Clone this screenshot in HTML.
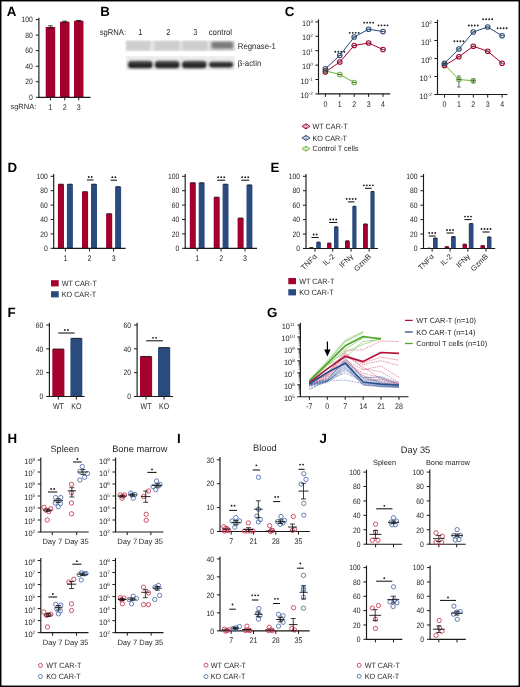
<!DOCTYPE html>
<html><head><meta charset="utf-8"><style>
html,body{margin:0;padding:0;background:#fff;}
svg{display:block;font-family:"Liberation Sans",sans-serif;text-rendering:geometricPrecision;filter:blur(0.35px);}
</style></head><body>
<svg width="520" height="687" viewBox="0 0 520 687">
<rect width="520" height="687" fill="#fff"/>
<rect x="0.7" y="0.7" width="518.6" height="685.6" fill="none" stroke="#000" stroke-width="1.5"/>
<text x="6.8" y="16.3" font-size="13.3" font-weight="bold" fill="#000">A</text>
<line x1="38.9" y1="97.3" x2="38.9" y2="17.7" stroke="#1a1a1a" stroke-width="1.15"/>
<line x1="35.8" y1="97.3" x2="38.9" y2="97.3" stroke="#1a1a1a" stroke-width="1"/>
<text transform="translate(32.9 100.03) scale(0.87 1)" font-size="7.8" text-anchor="end" fill="#231f20">0</text>
<line x1="35.8" y1="81.76" x2="38.9" y2="81.76" stroke="#1a1a1a" stroke-width="1"/>
<text transform="translate(32.9 84.49) scale(0.87 1)" font-size="7.8" text-anchor="end" fill="#231f20">20</text>
<line x1="35.8" y1="66.22" x2="38.9" y2="66.22" stroke="#1a1a1a" stroke-width="1"/>
<text transform="translate(32.9 68.95) scale(0.87 1)" font-size="7.8" text-anchor="end" fill="#231f20">40</text>
<line x1="35.8" y1="50.68" x2="38.9" y2="50.68" stroke="#1a1a1a" stroke-width="1"/>
<text transform="translate(32.9 53.41) scale(0.87 1)" font-size="7.8" text-anchor="end" fill="#231f20">60</text>
<line x1="35.8" y1="35.14" x2="38.9" y2="35.14" stroke="#1a1a1a" stroke-width="1"/>
<text transform="translate(32.9 37.87) scale(0.87 1)" font-size="7.8" text-anchor="end" fill="#231f20">80</text>
<line x1="35.8" y1="19.6" x2="38.9" y2="19.6" stroke="#1a1a1a" stroke-width="1"/>
<text transform="translate(32.9 22.33) scale(0.87 1)" font-size="7.8" text-anchor="end" fill="#231f20">100</text>
<rect x="45.7" y="26.98" width="9.5" height="70.32" fill="#a3002d"/>
<line x1="50.45" y1="25.82" x2="50.45" y2="28.15" stroke="#111" stroke-width="0.8"/>
<line x1="47.95" y1="25.82" x2="52.95" y2="25.82" stroke="#111" stroke-width="0.8"/>
<line x1="47.95" y1="28.15" x2="52.95" y2="28.15" stroke="#111" stroke-width="0.8"/>
<rect x="60" y="21.7" width="9.5" height="75.6" fill="#a3002d"/>
<line x1="64.75" y1="21.15" x2="64.75" y2="22.24" stroke="#111" stroke-width="0.8"/>
<line x1="62.25" y1="21.15" x2="67.25" y2="21.15" stroke="#111" stroke-width="0.8"/>
<line x1="62.25" y1="22.24" x2="67.25" y2="22.24" stroke="#111" stroke-width="0.8"/>
<rect x="74" y="20.77" width="9.5" height="76.53" fill="#a3002d"/>
<line x1="78.75" y1="20.45" x2="78.75" y2="21.08" stroke="#111" stroke-width="0.8"/>
<line x1="76.25" y1="20.45" x2="81.25" y2="20.45" stroke="#111" stroke-width="0.8"/>
<line x1="76.25" y1="21.08" x2="81.25" y2="21.08" stroke="#111" stroke-width="0.8"/>
<line x1="38.32" y1="97.3" x2="90.5" y2="97.3" stroke="#1a1a1a" stroke-width="1.15"/>
<line x1="50.45" y1="97.3" x2="50.45" y2="100.4" stroke="#1a1a1a" stroke-width="1"/>
<text transform="translate(50.45 109.8) scale(0.86 1)" font-size="8.2" text-anchor="middle" fill="#231f20">1</text>
<line x1="64.75" y1="97.3" x2="64.75" y2="100.4" stroke="#1a1a1a" stroke-width="1"/>
<text transform="translate(64.75 109.8) scale(0.86 1)" font-size="8.2" text-anchor="middle" fill="#231f20">2</text>
<line x1="78.75" y1="97.3" x2="78.75" y2="100.4" stroke="#1a1a1a" stroke-width="1"/>
<text transform="translate(78.75 109.8) scale(0.86 1)" font-size="8.2" text-anchor="middle" fill="#231f20">3</text>
<text x="10.4" y="108.8" font-size="7.5" fill="#231f20">sgRNA:</text>
<text x="100.2" y="16.3" font-size="13.3" font-weight="bold" fill="#000">B</text>
<text transform="translate(99.8 34.6) scale(0.93 1)" font-size="8.2" fill="#231f20">sgRNA:</text>
<text transform="translate(140.2 34.6) scale(0.86 1)" font-size="8.6" text-anchor="middle" fill="#231f20">1</text>
<text transform="translate(168.2 34.6) scale(0.86 1)" font-size="8.6" text-anchor="middle" fill="#231f20">2</text>
<text transform="translate(195.4 34.6) scale(0.86 1)" font-size="8.6" text-anchor="middle" fill="#231f20">3</text>
<text transform="translate(220.4 34.6) scale(0.93 1)" font-size="8.4" text-anchor="middle" fill="#231f20">control</text>
<defs><filter id="bl" x="-20%" y="-60%" width="140%" height="220%"><feGaussianBlur stdDeviation="0.9"/></filter><filter id="bl2" x="-20%" y="-60%" width="140%" height="220%"><feGaussianBlur stdDeviation="1.2"/></filter><filter id="bl3" x="-20%" y="-60%" width="140%" height="220%"><feGaussianBlur stdDeviation="0.5"/></filter><linearGradient id="bg" x1="0" y1="0" x2="0" y2="1"><stop offset="0" stop-color="#606060"/><stop offset="0.45" stop-color="#2c2c2c"/><stop offset="1" stop-color="#1e1e1e"/></linearGradient></defs>
<rect x="125.8" y="40.6" width="109" height="10.4" fill="#e6e6e6" filter="url(#bl3)"/>
<rect x="126.5" y="41.3" width="23.7" height="9" fill="#cecece" filter="url(#bl)"/>
<rect x="154.5" y="41.3" width="25" height="9" fill="#cecece" filter="url(#bl)"/>
<rect x="182.5" y="41.3" width="25" height="9" fill="#cecece" filter="url(#bl)"/>
<rect x="210" y="41.3" width="24.3" height="9" fill="#cecece" filter="url(#bl)"/>
<rect x="211.5" y="42.0" width="21.5" height="6.6" rx="2.5" fill="#7c7c7c" filter="url(#bl2)"/>
<rect x="125.8" y="56.3" width="109" height="14" fill="#ececec" filter="url(#bl3)"/>
<rect x="128" y="60.7" width="24.7" height="7.6" rx="3.6" fill="url(#bg)" filter="url(#bl)"/>
<rect x="154.8" y="60.7" width="24.8" height="7.6" rx="3.6" fill="url(#bg)" filter="url(#bl)"/>
<rect x="182" y="60.7" width="24.6" height="7.6" rx="3.6" fill="url(#bg)" filter="url(#bl)"/>
<rect x="209" y="61.6" width="24.2" height="5.8" rx="3.6" fill="url(#bg)" filter="url(#bl)"/>
<text transform="translate(237.8 48.8) scale(0.93 1)" font-size="8.4" fill="#231f20">Regnase-1</text>
<text transform="translate(237.8 66.1) scale(0.93 1)" font-size="8.4" fill="#231f20">&#946;-actin</text>
<text x="284.8" y="16.3" font-size="13.3" font-weight="bold" fill="#000">C</text>
<line x1="318.5" y1="93.8" x2="318.5" y2="19.4" stroke="#1a1a1a" stroke-width="1.15"/>
<line x1="315.4" y1="21.9" x2="318.5" y2="21.9" stroke="#1a1a1a" stroke-width="1"/>
<text transform="translate(312.8 25.9) scale(0.95 1)" font-size="7.8" text-anchor="end" fill="#231f20">10<tspan font-size="4.8" dy="-3">3</tspan></text>
<line x1="315.4" y1="36.3" x2="318.5" y2="36.3" stroke="#1a1a1a" stroke-width="1"/>
<text transform="translate(312.8 40.3) scale(0.95 1)" font-size="7.8" text-anchor="end" fill="#231f20">10<tspan font-size="4.8" dy="-3">2</tspan></text>
<line x1="315.4" y1="50.7" x2="318.5" y2="50.7" stroke="#1a1a1a" stroke-width="1"/>
<text transform="translate(312.8 54.7) scale(0.95 1)" font-size="7.8" text-anchor="end" fill="#231f20">10<tspan font-size="4.8" dy="-3">1</tspan></text>
<line x1="315.4" y1="65.1" x2="318.5" y2="65.1" stroke="#1a1a1a" stroke-width="1"/>
<text transform="translate(312.8 69.1) scale(0.95 1)" font-size="7.8" text-anchor="end" fill="#231f20">10<tspan font-size="4.8" dy="-3">0</tspan></text>
<line x1="315.4" y1="79.5" x2="318.5" y2="79.5" stroke="#1a1a1a" stroke-width="1"/>
<text transform="translate(312.8 83.5) scale(0.95 1)" font-size="7.8" text-anchor="end" fill="#231f20">10<tspan font-size="4.8" dy="-3">-1</tspan></text>
<line x1="315.4" y1="93.9" x2="318.5" y2="93.9" stroke="#1a1a1a" stroke-width="1"/>
<text transform="translate(312.8 97.9) scale(0.95 1)" font-size="7.8" text-anchor="end" fill="#231f20">10<tspan font-size="4.8" dy="-3">-2</tspan></text>
<line x1="317.93" y1="93.8" x2="390.2" y2="93.8" stroke="#1a1a1a" stroke-width="1.15"/>
<line x1="325.4" y1="93.8" x2="325.4" y2="96.9" stroke="#1a1a1a" stroke-width="1"/>
<text transform="translate(325.4 106.8) scale(0.86 1)" font-size="8.2" text-anchor="middle" fill="#231f20">0</text>
<line x1="339.8" y1="93.8" x2="339.8" y2="96.9" stroke="#1a1a1a" stroke-width="1"/>
<text transform="translate(339.8 106.8) scale(0.86 1)" font-size="8.2" text-anchor="middle" fill="#231f20">1</text>
<line x1="354.2" y1="93.8" x2="354.2" y2="96.9" stroke="#1a1a1a" stroke-width="1"/>
<text transform="translate(354.2 106.8) scale(0.86 1)" font-size="8.2" text-anchor="middle" fill="#231f20">2</text>
<line x1="368.6" y1="93.8" x2="368.6" y2="96.9" stroke="#1a1a1a" stroke-width="1"/>
<text transform="translate(368.6 106.8) scale(0.86 1)" font-size="8.2" text-anchor="middle" fill="#231f20">3</text>
<line x1="383" y1="93.8" x2="383" y2="96.9" stroke="#1a1a1a" stroke-width="1"/>
<text transform="translate(383 106.8) scale(0.86 1)" font-size="8.2" text-anchor="middle" fill="#231f20">4</text>
<polyline points="325.4,70.75 339.8,74.5 354.2,82.5" fill="none" stroke="#6db33f" stroke-width="1" stroke-linejoin="round"/>
<circle cx="325.4" cy="70.75" r="2.3" fill="none" stroke="#6db33f" stroke-width="1.05"/>
<line x1="323.5" y1="70.75" x2="327.3" y2="70.75" stroke="#3a3a3a" stroke-width="0.75"/>
<circle cx="339.8" cy="74.5" r="2.3" fill="none" stroke="#6db33f" stroke-width="1.05"/>
<line x1="337.9" y1="74.5" x2="341.7" y2="74.5" stroke="#3a3a3a" stroke-width="0.75"/>
<circle cx="354.2" cy="82.5" r="2.3" fill="none" stroke="#6db33f" stroke-width="1.05"/>
<line x1="352.3" y1="82.5" x2="356.1" y2="82.5" stroke="#3a3a3a" stroke-width="0.75"/>
<polyline points="325.4,72 339.8,62 354.2,45.5 368.6,43 383,49.5" fill="none" stroke="#a3002d" stroke-width="1" stroke-linejoin="round"/>
<circle cx="325.4" cy="72" r="2.3" fill="none" stroke="#a3002d" stroke-width="1.05"/>
<line x1="323.5" y1="72" x2="327.3" y2="72" stroke="#3a3a3a" stroke-width="0.75"/>
<circle cx="339.8" cy="62" r="2.3" fill="none" stroke="#a3002d" stroke-width="1.05"/>
<line x1="337.9" y1="62" x2="341.7" y2="62" stroke="#3a3a3a" stroke-width="0.75"/>
<circle cx="354.2" cy="45.5" r="2.3" fill="none" stroke="#a3002d" stroke-width="1.05"/>
<line x1="352.3" y1="45.5" x2="356.1" y2="45.5" stroke="#3a3a3a" stroke-width="0.75"/>
<circle cx="368.6" cy="43" r="2.3" fill="none" stroke="#a3002d" stroke-width="1.05"/>
<line x1="366.7" y1="43" x2="370.5" y2="43" stroke="#3a3a3a" stroke-width="0.75"/>
<circle cx="383" cy="49.5" r="2.3" fill="none" stroke="#a3002d" stroke-width="1.05"/>
<line x1="381.1" y1="49.5" x2="384.9" y2="49.5" stroke="#3a3a3a" stroke-width="0.75"/>
<polyline points="325.4,68.75 339.8,55.5 354.2,37 368.6,29.25 383,31.5" fill="none" stroke="#2b4a7e" stroke-width="1" stroke-linejoin="round"/>
<circle cx="325.4" cy="68.75" r="2.3" fill="none" stroke="#2b4a7e" stroke-width="1.05"/>
<line x1="323.5" y1="68.75" x2="327.3" y2="68.75" stroke="#3a3a3a" stroke-width="0.75"/>
<circle cx="339.8" cy="55.5" r="2.3" fill="none" stroke="#2b4a7e" stroke-width="1.05"/>
<line x1="337.9" y1="55.5" x2="341.7" y2="55.5" stroke="#3a3a3a" stroke-width="0.75"/>
<circle cx="354.2" cy="37" r="2.3" fill="none" stroke="#2b4a7e" stroke-width="1.05"/>
<line x1="352.3" y1="37" x2="356.1" y2="37" stroke="#3a3a3a" stroke-width="0.75"/>
<circle cx="368.6" cy="29.25" r="2.3" fill="none" stroke="#2b4a7e" stroke-width="1.05"/>
<line x1="366.7" y1="29.25" x2="370.5" y2="29.25" stroke="#3a3a3a" stroke-width="0.75"/>
<circle cx="383" cy="31.5" r="2.3" fill="none" stroke="#2b4a7e" stroke-width="1.05"/>
<line x1="381.1" y1="31.5" x2="384.9" y2="31.5" stroke="#3a3a3a" stroke-width="0.75"/>
<circle cx="335.3" cy="51.75" r="0.92" fill="#1a1a1a"/>
<circle cx="338.3" cy="51.75" r="0.92" fill="#1a1a1a"/>
<circle cx="341.3" cy="51.75" r="0.92" fill="#1a1a1a"/>
<circle cx="344.3" cy="51.75" r="0.92" fill="#1a1a1a"/>
<circle cx="349.7" cy="32.8" r="0.92" fill="#1a1a1a"/>
<circle cx="352.7" cy="32.8" r="0.92" fill="#1a1a1a"/>
<circle cx="355.7" cy="32.8" r="0.92" fill="#1a1a1a"/>
<circle cx="358.7" cy="32.8" r="0.92" fill="#1a1a1a"/>
<circle cx="364.1" cy="22.7" r="0.92" fill="#1a1a1a"/>
<circle cx="367.1" cy="22.7" r="0.92" fill="#1a1a1a"/>
<circle cx="370.1" cy="22.7" r="0.92" fill="#1a1a1a"/>
<circle cx="373.1" cy="22.7" r="0.92" fill="#1a1a1a"/>
<circle cx="378.5" cy="25.3" r="0.92" fill="#1a1a1a"/>
<circle cx="381.5" cy="25.3" r="0.92" fill="#1a1a1a"/>
<circle cx="384.5" cy="25.3" r="0.92" fill="#1a1a1a"/>
<circle cx="387.5" cy="25.3" r="0.92" fill="#1a1a1a"/>
<line x1="437.5" y1="94.5" x2="437.5" y2="19.8" stroke="#1a1a1a" stroke-width="1.15"/>
<line x1="434.4" y1="22.5" x2="437.5" y2="22.5" stroke="#1a1a1a" stroke-width="1"/>
<text transform="translate(431.8 26.5) scale(0.95 1)" font-size="7.8" text-anchor="end" fill="#231f20">10<tspan font-size="4.8" dy="-3">2</tspan></text>
<line x1="434.4" y1="40.5" x2="437.5" y2="40.5" stroke="#1a1a1a" stroke-width="1"/>
<text transform="translate(431.8 44.5) scale(0.95 1)" font-size="7.8" text-anchor="end" fill="#231f20">10<tspan font-size="4.8" dy="-3">1</tspan></text>
<line x1="434.4" y1="58.5" x2="437.5" y2="58.5" stroke="#1a1a1a" stroke-width="1"/>
<text transform="translate(431.8 62.5) scale(0.95 1)" font-size="7.8" text-anchor="end" fill="#231f20">10<tspan font-size="4.8" dy="-3">0</tspan></text>
<line x1="434.4" y1="76.5" x2="437.5" y2="76.5" stroke="#1a1a1a" stroke-width="1"/>
<text transform="translate(431.8 80.5) scale(0.95 1)" font-size="7.8" text-anchor="end" fill="#231f20">10<tspan font-size="4.8" dy="-3">-1</tspan></text>
<line x1="434.4" y1="94.5" x2="437.5" y2="94.5" stroke="#1a1a1a" stroke-width="1"/>
<text transform="translate(431.8 98.5) scale(0.95 1)" font-size="7.8" text-anchor="end" fill="#231f20">10<tspan font-size="4.8" dy="-3">-2</tspan></text>
<line x1="436.93" y1="94.5" x2="507.5" y2="94.5" stroke="#1a1a1a" stroke-width="1.15"/>
<line x1="444.5" y1="94.5" x2="444.5" y2="97.6" stroke="#1a1a1a" stroke-width="1"/>
<text transform="translate(444.5 107) scale(0.86 1)" font-size="8.2" text-anchor="middle" fill="#231f20">0</text>
<line x1="458.9" y1="94.5" x2="458.9" y2="97.6" stroke="#1a1a1a" stroke-width="1"/>
<text transform="translate(458.9 107) scale(0.86 1)" font-size="8.2" text-anchor="middle" fill="#231f20">1</text>
<line x1="473.3" y1="94.5" x2="473.3" y2="97.6" stroke="#1a1a1a" stroke-width="1"/>
<text transform="translate(473.3 107) scale(0.86 1)" font-size="8.2" text-anchor="middle" fill="#231f20">2</text>
<line x1="487.7" y1="94.5" x2="487.7" y2="97.6" stroke="#1a1a1a" stroke-width="1"/>
<text transform="translate(487.7 107) scale(0.86 1)" font-size="8.2" text-anchor="middle" fill="#231f20">3</text>
<line x1="502.1" y1="94.5" x2="502.1" y2="97.6" stroke="#1a1a1a" stroke-width="1"/>
<text transform="translate(502.1 107) scale(0.86 1)" font-size="8.2" text-anchor="middle" fill="#231f20">4</text>
<line x1="458.9" y1="76" x2="458.9" y2="87" stroke="#555" stroke-width="0.9"/>
<line x1="457.1" y1="76" x2="460.7" y2="76" stroke="#555" stroke-width="0.9"/>
<line x1="457.1" y1="87" x2="460.7" y2="87" stroke="#555" stroke-width="0.9"/>
<line x1="473.3" y1="78.6" x2="473.3" y2="82.9" stroke="#333" stroke-width="0.9"/>
<line x1="471.8" y1="78.6" x2="474.8" y2="78.6" stroke="#333" stroke-width="0.8"/>
<line x1="471.8" y1="82.9" x2="474.8" y2="82.9" stroke="#333" stroke-width="0.8"/>
<polyline points="444.5,64.5 458.9,79.5 473.3,80.75" fill="none" stroke="#6db33f" stroke-width="1" stroke-linejoin="round"/>
<circle cx="444.5" cy="64.5" r="2.3" fill="none" stroke="#6db33f" stroke-width="1.05"/>
<line x1="442.6" y1="64.5" x2="446.4" y2="64.5" stroke="#3a3a3a" stroke-width="0.75"/>
<circle cx="458.9" cy="79.5" r="2.3" fill="none" stroke="#6db33f" stroke-width="1.05"/>
<line x1="457" y1="79.5" x2="460.8" y2="79.5" stroke="#3a3a3a" stroke-width="0.75"/>
<circle cx="473.3" cy="80.75" r="2.3" fill="none" stroke="#6db33f" stroke-width="1.05"/>
<line x1="471.4" y1="80.75" x2="475.2" y2="80.75" stroke="#3a3a3a" stroke-width="0.75"/>
<polyline points="444.5,65.5 458.9,56.75 473.3,46.25 487.7,51.25 502.1,63.25" fill="none" stroke="#a3002d" stroke-width="1" stroke-linejoin="round"/>
<circle cx="444.5" cy="65.5" r="2.3" fill="none" stroke="#a3002d" stroke-width="1.05"/>
<line x1="442.6" y1="65.5" x2="446.4" y2="65.5" stroke="#3a3a3a" stroke-width="0.75"/>
<circle cx="458.9" cy="56.75" r="2.3" fill="none" stroke="#a3002d" stroke-width="1.05"/>
<line x1="457" y1="56.75" x2="460.8" y2="56.75" stroke="#3a3a3a" stroke-width="0.75"/>
<circle cx="473.3" cy="46.25" r="2.3" fill="none" stroke="#a3002d" stroke-width="1.05"/>
<line x1="471.4" y1="46.25" x2="475.2" y2="46.25" stroke="#3a3a3a" stroke-width="0.75"/>
<circle cx="487.7" cy="51.25" r="2.3" fill="none" stroke="#a3002d" stroke-width="1.05"/>
<line x1="485.8" y1="51.25" x2="489.6" y2="51.25" stroke="#3a3a3a" stroke-width="0.75"/>
<circle cx="502.1" cy="63.25" r="2.3" fill="none" stroke="#a3002d" stroke-width="1.05"/>
<line x1="500.2" y1="63.25" x2="504" y2="63.25" stroke="#3a3a3a" stroke-width="0.75"/>
<polyline points="444.5,63.25 458.9,49 473.3,32 487.7,27 502.1,35.75" fill="none" stroke="#2b4a7e" stroke-width="1" stroke-linejoin="round"/>
<circle cx="444.5" cy="63.25" r="2.3" fill="none" stroke="#2b4a7e" stroke-width="1.05"/>
<line x1="442.6" y1="63.25" x2="446.4" y2="63.25" stroke="#3a3a3a" stroke-width="0.75"/>
<circle cx="458.9" cy="49" r="2.3" fill="none" stroke="#2b4a7e" stroke-width="1.05"/>
<line x1="457" y1="49" x2="460.8" y2="49" stroke="#3a3a3a" stroke-width="0.75"/>
<circle cx="473.3" cy="32" r="2.3" fill="none" stroke="#2b4a7e" stroke-width="1.05"/>
<line x1="471.4" y1="32" x2="475.2" y2="32" stroke="#3a3a3a" stroke-width="0.75"/>
<circle cx="487.7" cy="27" r="2.3" fill="none" stroke="#2b4a7e" stroke-width="1.05"/>
<line x1="485.8" y1="27" x2="489.6" y2="27" stroke="#3a3a3a" stroke-width="0.75"/>
<circle cx="502.1" cy="35.75" r="2.3" fill="none" stroke="#2b4a7e" stroke-width="1.05"/>
<line x1="500.2" y1="35.75" x2="504" y2="35.75" stroke="#3a3a3a" stroke-width="0.75"/>
<circle cx="454.4" cy="41.25" r="0.92" fill="#1a1a1a"/>
<circle cx="457.4" cy="41.25" r="0.92" fill="#1a1a1a"/>
<circle cx="460.4" cy="41.25" r="0.92" fill="#1a1a1a"/>
<circle cx="463.4" cy="41.25" r="0.92" fill="#1a1a1a"/>
<circle cx="468.8" cy="25.5" r="0.92" fill="#1a1a1a"/>
<circle cx="471.8" cy="25.5" r="0.92" fill="#1a1a1a"/>
<circle cx="474.8" cy="25.5" r="0.92" fill="#1a1a1a"/>
<circle cx="477.8" cy="25.5" r="0.92" fill="#1a1a1a"/>
<circle cx="483.2" cy="19.25" r="0.92" fill="#1a1a1a"/>
<circle cx="486.2" cy="19.25" r="0.92" fill="#1a1a1a"/>
<circle cx="489.2" cy="19.25" r="0.92" fill="#1a1a1a"/>
<circle cx="492.2" cy="19.25" r="0.92" fill="#1a1a1a"/>
<circle cx="497.6" cy="28.25" r="0.92" fill="#1a1a1a"/>
<circle cx="500.6" cy="28.25" r="0.92" fill="#1a1a1a"/>
<circle cx="503.6" cy="28.25" r="0.92" fill="#1a1a1a"/>
<circle cx="506.6" cy="28.25" r="0.92" fill="#1a1a1a"/>
<path d="M302,126.3 L306,123.8 L310,126.3 L306,128.8 Z" fill="none" stroke="#a3002d" stroke-width="1.0" stroke-linejoin="round"/>
<ellipse cx="306" cy="126.3" rx="1.1" ry="1.6" fill="none" stroke="#a3002d" stroke-width="0.7" opacity="0.8"/>
<text transform="translate(312.5 129) scale(0.94 1)" font-size="7.7" fill="#231f20">WT CAR-T</text>
<path d="M302,137.9 L306,135.4 L310,137.9 L306,140.4 Z" fill="none" stroke="#2b4a7e" stroke-width="1.0" stroke-linejoin="round"/>
<ellipse cx="306" cy="137.9" rx="1.1" ry="1.6" fill="none" stroke="#2b4a7e" stroke-width="0.7" opacity="0.8"/>
<text transform="translate(312.5 140.6) scale(0.94 1)" font-size="7.7" fill="#231f20">KO CAR-T</text>
<path d="M302,148.7 L306,146.2 L310,148.7 L306,151.2 Z" fill="none" stroke="#6db33f" stroke-width="1.0" stroke-linejoin="round"/>
<ellipse cx="306" cy="148.7" rx="1.1" ry="1.6" fill="none" stroke="#6db33f" stroke-width="0.7" opacity="0.8"/>
<text transform="translate(312.5 151.4) scale(0.94 1)" font-size="7.7" fill="#231f20">Control T cells</text>
<text x="7.6" y="171.9" font-size="13.3" font-weight="bold" fill="#000">D</text>
<line x1="53.7" y1="248.3" x2="53.7" y2="174" stroke="#1a1a1a" stroke-width="1.15"/>
<line x1="50.6" y1="248.3" x2="53.7" y2="248.3" stroke="#1a1a1a" stroke-width="1"/>
<text transform="translate(47.7 251.03) scale(0.87 1)" font-size="7.8" text-anchor="end" fill="#231f20">0</text>
<line x1="50.6" y1="233.9" x2="53.7" y2="233.9" stroke="#1a1a1a" stroke-width="1"/>
<text transform="translate(47.7 236.63) scale(0.87 1)" font-size="7.8" text-anchor="end" fill="#231f20">20</text>
<line x1="50.6" y1="219.5" x2="53.7" y2="219.5" stroke="#1a1a1a" stroke-width="1"/>
<text transform="translate(47.7 222.23) scale(0.87 1)" font-size="7.8" text-anchor="end" fill="#231f20">40</text>
<line x1="50.6" y1="205.1" x2="53.7" y2="205.1" stroke="#1a1a1a" stroke-width="1"/>
<text transform="translate(47.7 207.83) scale(0.87 1)" font-size="7.8" text-anchor="end" fill="#231f20">60</text>
<line x1="50.6" y1="190.7" x2="53.7" y2="190.7" stroke="#1a1a1a" stroke-width="1"/>
<text transform="translate(47.7 193.43) scale(0.87 1)" font-size="7.8" text-anchor="end" fill="#231f20">80</text>
<line x1="50.6" y1="176.3" x2="53.7" y2="176.3" stroke="#1a1a1a" stroke-width="1"/>
<text transform="translate(47.7 179.03) scale(0.87 1)" font-size="7.8" text-anchor="end" fill="#231f20">100</text>
<rect x="57.9" y="184.22" width="6.1" height="64.08" fill="#a3002d"/>
<line x1="58.6" y1="184.22" x2="63.3" y2="184.22" stroke="#111" stroke-width="0.9"/>
<rect x="66.9" y="184.22" width="6" height="64.08" fill="#2b4a7e"/>
<line x1="67.6" y1="184.22" x2="72.2" y2="184.22" stroke="#111" stroke-width="0.9"/>
<rect x="82" y="191.71" width="6.1" height="56.59" fill="#a3002d"/>
<line x1="82.7" y1="191.71" x2="87.4" y2="191.71" stroke="#111" stroke-width="0.9"/>
<rect x="91" y="184.22" width="6" height="64.08" fill="#2b4a7e"/>
<line x1="91.7" y1="184.22" x2="96.3" y2="184.22" stroke="#111" stroke-width="0.9"/>
<rect x="106.1" y="213.74" width="6.1" height="34.56" fill="#a3002d"/>
<line x1="106.8" y1="213.74" x2="111.5" y2="213.74" stroke="#111" stroke-width="0.9"/>
<rect x="115.1" y="186.74" width="6" height="61.56" fill="#2b4a7e"/>
<line x1="115.8" y1="186.74" x2="120.4" y2="186.74" stroke="#111" stroke-width="0.9"/>
<line x1="53.12" y1="248.3" x2="125.6" y2="248.3" stroke="#1a1a1a" stroke-width="1.15"/>
<line x1="65.4" y1="248.3" x2="65.4" y2="251.4" stroke="#1a1a1a" stroke-width="1"/>
<text transform="translate(65.4 260.8) scale(0.86 1)" font-size="8.2" text-anchor="middle" fill="#231f20">1</text>
<line x1="89.5" y1="248.3" x2="89.5" y2="251.4" stroke="#1a1a1a" stroke-width="1"/>
<text transform="translate(89.5 260.8) scale(0.86 1)" font-size="8.2" text-anchor="middle" fill="#231f20">2</text>
<line x1="113.6" y1="248.3" x2="113.6" y2="251.4" stroke="#1a1a1a" stroke-width="1"/>
<text transform="translate(113.6 260.8) scale(0.86 1)" font-size="8.2" text-anchor="middle" fill="#231f20">3</text>
<line x1="86.9" y1="180" x2="93.5" y2="180" stroke="#111" stroke-width="1.05"/>
<circle cx="88.7" cy="177" r="0.92" fill="#1a1a1a"/>
<circle cx="91.7" cy="177" r="0.92" fill="#1a1a1a"/>
<line x1="110.6" y1="180.2" x2="117" y2="180.2" stroke="#111" stroke-width="1.05"/>
<circle cx="112.3" cy="177.2" r="0.92" fill="#1a1a1a"/>
<circle cx="115.3" cy="177.2" r="0.92" fill="#1a1a1a"/>
<line x1="185.2" y1="248.3" x2="185.2" y2="174" stroke="#1a1a1a" stroke-width="1.15"/>
<line x1="182.1" y1="248.3" x2="185.2" y2="248.3" stroke="#1a1a1a" stroke-width="1"/>
<text transform="translate(179.2 251.03) scale(0.87 1)" font-size="7.8" text-anchor="end" fill="#231f20">0</text>
<line x1="182.1" y1="233.9" x2="185.2" y2="233.9" stroke="#1a1a1a" stroke-width="1"/>
<text transform="translate(179.2 236.63) scale(0.87 1)" font-size="7.8" text-anchor="end" fill="#231f20">20</text>
<line x1="182.1" y1="219.5" x2="185.2" y2="219.5" stroke="#1a1a1a" stroke-width="1"/>
<text transform="translate(179.2 222.23) scale(0.87 1)" font-size="7.8" text-anchor="end" fill="#231f20">40</text>
<line x1="182.1" y1="205.1" x2="185.2" y2="205.1" stroke="#1a1a1a" stroke-width="1"/>
<text transform="translate(179.2 207.83) scale(0.87 1)" font-size="7.8" text-anchor="end" fill="#231f20">60</text>
<line x1="182.1" y1="190.7" x2="185.2" y2="190.7" stroke="#1a1a1a" stroke-width="1"/>
<text transform="translate(179.2 193.43) scale(0.87 1)" font-size="7.8" text-anchor="end" fill="#231f20">80</text>
<line x1="182.1" y1="176.3" x2="185.2" y2="176.3" stroke="#1a1a1a" stroke-width="1"/>
<text transform="translate(179.2 179.03) scale(0.87 1)" font-size="7.8" text-anchor="end" fill="#231f20">100</text>
<rect x="189.8" y="182.78" width="6" height="65.52" fill="#a3002d"/>
<line x1="190.5" y1="182.78" x2="195.1" y2="182.78" stroke="#111" stroke-width="0.9"/>
<rect x="198.7" y="182.78" width="5.9" height="65.52" fill="#2b4a7e"/>
<line x1="199.4" y1="182.78" x2="203.9" y2="182.78" stroke="#111" stroke-width="0.9"/>
<rect x="213.7" y="197.18" width="6" height="51.12" fill="#a3002d"/>
<line x1="214.4" y1="197.18" x2="219" y2="197.18" stroke="#111" stroke-width="0.9"/>
<rect x="222.6" y="184.22" width="5.9" height="64.08" fill="#2b4a7e"/>
<line x1="223.3" y1="184.22" x2="227.8" y2="184.22" stroke="#111" stroke-width="0.9"/>
<rect x="237.6" y="218.06" width="6" height="30.24" fill="#a3002d"/>
<line x1="238.3" y1="218.06" x2="242.9" y2="218.06" stroke="#111" stroke-width="0.9"/>
<rect x="246.5" y="184.94" width="5.9" height="63.36" fill="#2b4a7e"/>
<line x1="247.2" y1="184.94" x2="251.7" y2="184.94" stroke="#111" stroke-width="0.9"/>
<line x1="184.62" y1="248.3" x2="257" y2="248.3" stroke="#1a1a1a" stroke-width="1.15"/>
<line x1="197.2" y1="248.3" x2="197.2" y2="251.4" stroke="#1a1a1a" stroke-width="1"/>
<text transform="translate(197.2 260.8) scale(0.86 1)" font-size="8.2" text-anchor="middle" fill="#231f20">1</text>
<line x1="221.1" y1="248.3" x2="221.1" y2="251.4" stroke="#1a1a1a" stroke-width="1"/>
<text transform="translate(221.1 260.8) scale(0.86 1)" font-size="8.2" text-anchor="middle" fill="#231f20">2</text>
<line x1="245" y1="248.3" x2="245" y2="251.4" stroke="#1a1a1a" stroke-width="1"/>
<text transform="translate(245 260.8) scale(0.86 1)" font-size="8.2" text-anchor="middle" fill="#231f20">3</text>
<line x1="217.2" y1="180.2" x2="225.2" y2="180.2" stroke="#111" stroke-width="1.05"/>
<circle cx="218.2" cy="177.2" r="0.92" fill="#1a1a1a"/>
<circle cx="221.2" cy="177.2" r="0.92" fill="#1a1a1a"/>
<circle cx="224.2" cy="177.2" r="0.92" fill="#1a1a1a"/>
<line x1="241.2" y1="180.2" x2="249.2" y2="180.2" stroke="#111" stroke-width="1.05"/>
<circle cx="242.2" cy="177.2" r="0.92" fill="#1a1a1a"/>
<circle cx="245.2" cy="177.2" r="0.92" fill="#1a1a1a"/>
<circle cx="248.2" cy="177.2" r="0.92" fill="#1a1a1a"/>
<rect x="51" y="280.2" width="7.7" height="6.2" fill="#a3002d"/>
<text transform="translate(61.7 286.2) scale(0.94 1)" font-size="7.7" fill="#231f20">WT CAR-T</text>
<rect x="51" y="291.2" width="7.7" height="6.2" fill="#2b4a7e"/>
<text transform="translate(61.7 297.2) scale(0.94 1)" font-size="7.7" fill="#231f20">KO CAR-T</text>
<text x="270.4" y="171.9" font-size="13.3" font-weight="bold" fill="#000">E</text>
<line x1="306" y1="248.5" x2="306" y2="174" stroke="#1a1a1a" stroke-width="1.15"/>
<line x1="302.9" y1="248.5" x2="306" y2="248.5" stroke="#1a1a1a" stroke-width="1"/>
<text transform="translate(300 251.23) scale(0.87 1)" font-size="7.8" text-anchor="end" fill="#231f20">0</text>
<line x1="302.9" y1="234.06" x2="306" y2="234.06" stroke="#1a1a1a" stroke-width="1"/>
<text transform="translate(300 236.79) scale(0.87 1)" font-size="7.8" text-anchor="end" fill="#231f20">20</text>
<line x1="302.9" y1="219.62" x2="306" y2="219.62" stroke="#1a1a1a" stroke-width="1"/>
<text transform="translate(300 222.35) scale(0.87 1)" font-size="7.8" text-anchor="end" fill="#231f20">40</text>
<line x1="302.9" y1="205.18" x2="306" y2="205.18" stroke="#1a1a1a" stroke-width="1"/>
<text transform="translate(300 207.91) scale(0.87 1)" font-size="7.8" text-anchor="end" fill="#231f20">60</text>
<line x1="302.9" y1="190.74" x2="306" y2="190.74" stroke="#1a1a1a" stroke-width="1"/>
<text transform="translate(300 193.47) scale(0.87 1)" font-size="7.8" text-anchor="end" fill="#231f20">80</text>
<line x1="302.9" y1="176.3" x2="306" y2="176.3" stroke="#1a1a1a" stroke-width="1"/>
<text transform="translate(300 179.03) scale(0.87 1)" font-size="7.8" text-anchor="end" fill="#231f20">100</text>
<rect x="309" y="247.63" width="4.8" height="0.87" fill="#a3002d"/>
<line x1="309.7" y1="247.63" x2="313.1" y2="247.63" stroke="#111" stroke-width="0.9"/>
<rect x="316.2" y="242.15" width="4.6" height="6.35" fill="#2b4a7e"/>
<line x1="316.9" y1="242.15" x2="320.1" y2="242.15" stroke="#111" stroke-width="0.9"/>
<rect x="327" y="243.09" width="4.5" height="5.42" fill="#a3002d"/>
<line x1="327.7" y1="243.09" x2="330.8" y2="243.09" stroke="#111" stroke-width="0.9"/>
<rect x="334" y="226.84" width="4.5" height="21.66" fill="#2b4a7e"/>
<line x1="334.7" y1="226.84" x2="337.8" y2="226.84" stroke="#111" stroke-width="0.9"/>
<rect x="345" y="240.85" width="4.8" height="7.65" fill="#a3002d"/>
<line x1="345.7" y1="240.85" x2="349.1" y2="240.85" stroke="#111" stroke-width="0.9"/>
<rect x="352.3" y="206.26" width="4.2" height="42.24" fill="#2b4a7e"/>
<line x1="353" y1="206.26" x2="355.8" y2="206.26" stroke="#111" stroke-width="0.9"/>
<rect x="363" y="223.95" width="4.9" height="24.55" fill="#a3002d"/>
<line x1="363.7" y1="223.95" x2="367.2" y2="223.95" stroke="#111" stroke-width="0.9"/>
<rect x="370.4" y="191.46" width="4.2" height="57.04" fill="#2b4a7e"/>
<line x1="371.1" y1="191.46" x2="373.9" y2="191.46" stroke="#111" stroke-width="0.9"/>
<line x1="305.43" y1="248.5" x2="378" y2="248.5" stroke="#1a1a1a" stroke-width="1.15"/>
<line x1="315" y1="248.5" x2="315" y2="251.6" stroke="#1a1a1a" stroke-width="1"/>
<line x1="332.75" y1="248.5" x2="332.75" y2="251.6" stroke="#1a1a1a" stroke-width="1"/>
<line x1="351.05" y1="248.5" x2="351.05" y2="251.6" stroke="#1a1a1a" stroke-width="1"/>
<line x1="369.15" y1="248.5" x2="369.15" y2="251.6" stroke="#1a1a1a" stroke-width="1"/>
<line x1="311.5" y1="237.5" x2="318.7" y2="237.5" stroke="#111" stroke-width="1.05"/>
<circle cx="313.6" cy="234.5" r="0.92" fill="#1a1a1a"/>
<circle cx="316.6" cy="234.5" r="0.92" fill="#1a1a1a"/>
<line x1="329.2" y1="222.5" x2="337.3" y2="222.5" stroke="#111" stroke-width="1.05"/>
<circle cx="330.25" cy="219.5" r="0.92" fill="#1a1a1a"/>
<circle cx="333.25" cy="219.5" r="0.92" fill="#1a1a1a"/>
<circle cx="336.25" cy="219.5" r="0.92" fill="#1a1a1a"/>
<line x1="347.9" y1="201.9" x2="354.5" y2="201.9" stroke="#111" stroke-width="1.05"/>
<circle cx="346.7" cy="198.9" r="0.92" fill="#1a1a1a"/>
<circle cx="349.7" cy="198.9" r="0.92" fill="#1a1a1a"/>
<circle cx="352.7" cy="198.9" r="0.92" fill="#1a1a1a"/>
<circle cx="355.7" cy="198.9" r="0.92" fill="#1a1a1a"/>
<line x1="365" y1="188.3" x2="371.7" y2="188.3" stroke="#111" stroke-width="1.05"/>
<circle cx="363.85" cy="185.3" r="0.92" fill="#1a1a1a"/>
<circle cx="366.85" cy="185.3" r="0.92" fill="#1a1a1a"/>
<circle cx="369.85" cy="185.3" r="0.92" fill="#1a1a1a"/>
<circle cx="372.85" cy="185.3" r="0.92" fill="#1a1a1a"/>
<text x="317.5" y="257" font-size="7.5" text-anchor="end" fill="#231f20" transform="rotate(-45 317.5 257)">TNF&#945;</text>
<text x="335.25" y="257" font-size="7.5" text-anchor="end" fill="#231f20" transform="rotate(-45 335.25 257)">IL-2</text>
<text x="353.55" y="257" font-size="7.5" text-anchor="end" fill="#231f20" transform="rotate(-45 353.55 257)">IFN&#947;</text>
<text x="371.65" y="257" font-size="7.5" text-anchor="end" fill="#231f20" transform="rotate(-45 371.65 257)">GzmB</text>
<line x1="423.5" y1="248.5" x2="423.5" y2="174" stroke="#1a1a1a" stroke-width="1.15"/>
<line x1="420.4" y1="248.5" x2="423.5" y2="248.5" stroke="#1a1a1a" stroke-width="1"/>
<text transform="translate(417.5 251.23) scale(0.87 1)" font-size="7.8" text-anchor="end" fill="#231f20">0</text>
<line x1="420.4" y1="234.06" x2="423.5" y2="234.06" stroke="#1a1a1a" stroke-width="1"/>
<text transform="translate(417.5 236.79) scale(0.87 1)" font-size="7.8" text-anchor="end" fill="#231f20">20</text>
<line x1="420.4" y1="219.62" x2="423.5" y2="219.62" stroke="#1a1a1a" stroke-width="1"/>
<text transform="translate(417.5 222.35) scale(0.87 1)" font-size="7.8" text-anchor="end" fill="#231f20">40</text>
<line x1="420.4" y1="205.18" x2="423.5" y2="205.18" stroke="#1a1a1a" stroke-width="1"/>
<text transform="translate(417.5 207.91) scale(0.87 1)" font-size="7.8" text-anchor="end" fill="#231f20">60</text>
<line x1="420.4" y1="190.74" x2="423.5" y2="190.74" stroke="#1a1a1a" stroke-width="1"/>
<text transform="translate(417.5 193.47) scale(0.87 1)" font-size="7.8" text-anchor="end" fill="#231f20">80</text>
<line x1="420.4" y1="176.3" x2="423.5" y2="176.3" stroke="#1a1a1a" stroke-width="1"/>
<text transform="translate(417.5 179.03) scale(0.87 1)" font-size="7.8" text-anchor="end" fill="#231f20">100</text>
<rect x="426.9" y="248.14" width="4.4" height="0.36" fill="#a3002d"/>
<line x1="427.6" y1="248.14" x2="430.6" y2="248.14" stroke="#111" stroke-width="0.9"/>
<rect x="433" y="238.03" width="4.7" height="10.47" fill="#2b4a7e"/>
<line x1="433.7" y1="238.03" x2="437" y2="238.03" stroke="#111" stroke-width="0.9"/>
<rect x="444.6" y="246.69" width="4.6" height="1.8" fill="#a3002d"/>
<line x1="445.3" y1="246.69" x2="448.5" y2="246.69" stroke="#111" stroke-width="0.9"/>
<rect x="451" y="236.59" width="4.8" height="11.91" fill="#2b4a7e"/>
<line x1="451.7" y1="236.59" x2="455.1" y2="236.59" stroke="#111" stroke-width="0.9"/>
<rect x="462.5" y="244.17" width="4.5" height="4.33" fill="#a3002d"/>
<line x1="463.2" y1="244.17" x2="466.3" y2="244.17" stroke="#111" stroke-width="0.9"/>
<rect x="468.8" y="223.59" width="4.7" height="24.91" fill="#2b4a7e"/>
<line x1="469.5" y1="223.59" x2="472.8" y2="223.59" stroke="#111" stroke-width="0.9"/>
<rect x="480.4" y="245.61" width="4.6" height="2.89" fill="#a3002d"/>
<line x1="481.1" y1="245.61" x2="484.3" y2="245.61" stroke="#111" stroke-width="0.9"/>
<rect x="487" y="236.95" width="4.5" height="11.55" fill="#2b4a7e"/>
<line x1="487.7" y1="236.95" x2="490.8" y2="236.95" stroke="#111" stroke-width="0.9"/>
<line x1="422.93" y1="248.5" x2="495.2" y2="248.5" stroke="#1a1a1a" stroke-width="1.15"/>
<line x1="432.15" y1="248.5" x2="432.15" y2="251.6" stroke="#1a1a1a" stroke-width="1"/>
<line x1="450.1" y1="248.5" x2="450.1" y2="251.6" stroke="#1a1a1a" stroke-width="1"/>
<line x1="467.9" y1="248.5" x2="467.9" y2="251.6" stroke="#1a1a1a" stroke-width="1"/>
<line x1="486" y1="248.5" x2="486" y2="251.6" stroke="#1a1a1a" stroke-width="1"/>
<line x1="428.8" y1="236" x2="435.6" y2="236" stroke="#111" stroke-width="1.05"/>
<circle cx="429.2" cy="233" r="0.92" fill="#1a1a1a"/>
<circle cx="432.2" cy="233" r="0.92" fill="#1a1a1a"/>
<circle cx="435.2" cy="233" r="0.92" fill="#1a1a1a"/>
<line x1="446.5" y1="233" x2="453.5" y2="233" stroke="#111" stroke-width="1.05"/>
<circle cx="447" cy="230" r="0.92" fill="#1a1a1a"/>
<circle cx="450" cy="230" r="0.92" fill="#1a1a1a"/>
<circle cx="453" cy="230" r="0.92" fill="#1a1a1a"/>
<line x1="464.5" y1="219.6" x2="471.5" y2="219.6" stroke="#111" stroke-width="1.05"/>
<circle cx="465" cy="216.6" r="0.92" fill="#1a1a1a"/>
<circle cx="468" cy="216.6" r="0.92" fill="#1a1a1a"/>
<circle cx="471" cy="216.6" r="0.92" fill="#1a1a1a"/>
<line x1="482.5" y1="232" x2="489.5" y2="232" stroke="#111" stroke-width="1.05"/>
<circle cx="481.5" cy="229" r="0.92" fill="#1a1a1a"/>
<circle cx="484.5" cy="229" r="0.92" fill="#1a1a1a"/>
<circle cx="487.5" cy="229" r="0.92" fill="#1a1a1a"/>
<circle cx="490.5" cy="229" r="0.92" fill="#1a1a1a"/>
<text x="434.65" y="257" font-size="7.5" text-anchor="end" fill="#231f20" transform="rotate(-45 434.65 257)">TNF&#945;</text>
<text x="452.6" y="257" font-size="7.5" text-anchor="end" fill="#231f20" transform="rotate(-45 452.6 257)">IL-2</text>
<text x="470.4" y="257" font-size="7.5" text-anchor="end" fill="#231f20" transform="rotate(-45 470.4 257)">IFN&#947;</text>
<text x="488.5" y="257" font-size="7.5" text-anchor="end" fill="#231f20" transform="rotate(-45 488.5 257)">GzmB</text>
<rect x="288.3" y="278" width="7.7" height="6.2" fill="#a3002d"/>
<text transform="translate(299.2 284) scale(0.94 1)" font-size="7.7" fill="#231f20">WT CAR-T</text>
<rect x="288.3" y="289.2" width="7.7" height="6.2" fill="#2b4a7e"/>
<text transform="translate(299.2 295.2) scale(0.94 1)" font-size="7.7" fill="#231f20">KO CAR-T</text>
<text x="7.6" y="317" font-size="13.3" font-weight="bold" fill="#000">F</text>
<line x1="49.4" y1="396.5" x2="49.4" y2="322.7" stroke="#1a1a1a" stroke-width="1.15"/>
<line x1="46.3" y1="396.5" x2="49.4" y2="396.5" stroke="#1a1a1a" stroke-width="1"/>
<text transform="translate(43.4 399.23) scale(0.87 1)" font-size="7.8" text-anchor="end" fill="#231f20">0</text>
<line x1="46.3" y1="372.67" x2="49.4" y2="372.67" stroke="#1a1a1a" stroke-width="1"/>
<text transform="translate(43.4 375.4) scale(0.87 1)" font-size="7.8" text-anchor="end" fill="#231f20">20</text>
<line x1="46.3" y1="348.83" x2="49.4" y2="348.83" stroke="#1a1a1a" stroke-width="1"/>
<text transform="translate(43.4 351.56) scale(0.87 1)" font-size="7.8" text-anchor="end" fill="#231f20">40</text>
<line x1="46.3" y1="325" x2="49.4" y2="325" stroke="#1a1a1a" stroke-width="1"/>
<text transform="translate(43.4 327.73) scale(0.87 1)" font-size="7.8" text-anchor="end" fill="#231f20">60</text>
<rect x="52.3" y="349.07" width="12.1" height="47.43" fill="#a3002d"/>
<line x1="53" y1="349.07" x2="63.7" y2="349.07" stroke="#111" stroke-width="0.9"/>
<rect x="70.4" y="338.35" width="11.9" height="58.15" fill="#2b4a7e"/>
<line x1="71.1" y1="338.35" x2="81.6" y2="338.35" stroke="#111" stroke-width="0.9"/>
<line x1="48.82" y1="396.5" x2="84.6" y2="396.5" stroke="#1a1a1a" stroke-width="1.15"/>
<line x1="58.35" y1="396.5" x2="58.35" y2="399.6" stroke="#1a1a1a" stroke-width="1"/>
<text transform="translate(58.35 408.7) scale(0.86 1)" font-size="8.2" text-anchor="middle" fill="#231f20">WT</text>
<line x1="76.35" y1="396.5" x2="76.35" y2="399.6" stroke="#1a1a1a" stroke-width="1"/>
<text transform="translate(76.35 408.7) scale(0.86 1)" font-size="8.2" text-anchor="middle" fill="#231f20">KO</text>
<line x1="58.3" y1="333" x2="74.6" y2="333" stroke="#111" stroke-width="1.05"/>
<circle cx="64.95" cy="330" r="0.92" fill="#1a1a1a"/>
<circle cx="67.95" cy="330" r="0.92" fill="#1a1a1a"/>
<line x1="137.1" y1="396.5" x2="137.1" y2="322.7" stroke="#1a1a1a" stroke-width="1.15"/>
<line x1="134" y1="396.5" x2="137.1" y2="396.5" stroke="#1a1a1a" stroke-width="1"/>
<text transform="translate(131.1 399.23) scale(0.87 1)" font-size="7.8" text-anchor="end" fill="#231f20">0</text>
<line x1="134" y1="372.67" x2="137.1" y2="372.67" stroke="#1a1a1a" stroke-width="1"/>
<text transform="translate(131.1 375.4) scale(0.87 1)" font-size="7.8" text-anchor="end" fill="#231f20">20</text>
<line x1="134" y1="348.83" x2="137.1" y2="348.83" stroke="#1a1a1a" stroke-width="1"/>
<text transform="translate(131.1 351.56) scale(0.87 1)" font-size="7.8" text-anchor="end" fill="#231f20">40</text>
<line x1="134" y1="325" x2="137.1" y2="325" stroke="#1a1a1a" stroke-width="1"/>
<text transform="translate(131.1 327.73) scale(0.87 1)" font-size="7.8" text-anchor="end" fill="#231f20">60</text>
<rect x="140" y="356.46" width="12.1" height="40.04" fill="#a3002d"/>
<line x1="140.7" y1="356.46" x2="151.4" y2="356.46" stroke="#111" stroke-width="0.9"/>
<rect x="158" y="347.64" width="12.2" height="48.86" fill="#2b4a7e"/>
<line x1="158.7" y1="347.64" x2="169.5" y2="347.64" stroke="#111" stroke-width="0.9"/>
<line x1="136.53" y1="396.5" x2="173" y2="396.5" stroke="#1a1a1a" stroke-width="1.15"/>
<line x1="146.05" y1="396.5" x2="146.05" y2="399.6" stroke="#1a1a1a" stroke-width="1"/>
<text transform="translate(146.05 408.7) scale(0.86 1)" font-size="8.2" text-anchor="middle" fill="#231f20">WT</text>
<line x1="164.1" y1="396.5" x2="164.1" y2="399.6" stroke="#1a1a1a" stroke-width="1"/>
<text transform="translate(164.1 408.7) scale(0.86 1)" font-size="8.2" text-anchor="middle" fill="#231f20">KO</text>
<line x1="146.2" y1="340.8" x2="162.9" y2="340.8" stroke="#111" stroke-width="1.05"/>
<circle cx="153.05" cy="337.8" r="0.92" fill="#1a1a1a"/>
<circle cx="156.05" cy="337.8" r="0.92" fill="#1a1a1a"/>
<g id="panelG"></g>
<g id="panelHIJ"></g>
<text x="267" y="317.3" font-size="13.3" font-weight="bold" fill="#000">G</text>
<line x1="300.4" y1="396.7" x2="300.4" y2="322.7" stroke="#1a1a1a" stroke-width="1.15"/>
<line x1="297.3" y1="325" x2="300.4" y2="325" stroke="#1a1a1a" stroke-width="1"/>
<text transform="translate(294.7 329) scale(0.95 1)" font-size="7.8" text-anchor="end" fill="#231f20">10<tspan font-size="4.8" dy="-3">11</tspan></text>
<line x1="298.7" y1="333.35" x2="300.4" y2="333.35" stroke="#1a1a1a" stroke-width="0.65"/>
<line x1="298.7" y1="331.25" x2="300.4" y2="331.25" stroke="#1a1a1a" stroke-width="0.65"/>
<line x1="298.7" y1="329.76" x2="300.4" y2="329.76" stroke="#1a1a1a" stroke-width="0.65"/>
<line x1="298.7" y1="328.6" x2="300.4" y2="328.6" stroke="#1a1a1a" stroke-width="0.65"/>
<line x1="298.7" y1="327.65" x2="300.4" y2="327.65" stroke="#1a1a1a" stroke-width="0.65"/>
<line x1="298.7" y1="326.85" x2="300.4" y2="326.85" stroke="#1a1a1a" stroke-width="0.65"/>
<line x1="298.7" y1="326.16" x2="300.4" y2="326.16" stroke="#1a1a1a" stroke-width="0.65"/>
<line x1="298.7" y1="325.55" x2="300.4" y2="325.55" stroke="#1a1a1a" stroke-width="0.65"/>
<line x1="297.3" y1="336.95" x2="300.4" y2="336.95" stroke="#1a1a1a" stroke-width="1"/>
<text transform="translate(294.7 340.95) scale(0.95 1)" font-size="7.8" text-anchor="end" fill="#231f20">10<tspan font-size="4.8" dy="-3">10</tspan></text>
<line x1="298.7" y1="345.3" x2="300.4" y2="345.3" stroke="#1a1a1a" stroke-width="0.65"/>
<line x1="298.7" y1="343.2" x2="300.4" y2="343.2" stroke="#1a1a1a" stroke-width="0.65"/>
<line x1="298.7" y1="341.71" x2="300.4" y2="341.71" stroke="#1a1a1a" stroke-width="0.65"/>
<line x1="298.7" y1="340.55" x2="300.4" y2="340.55" stroke="#1a1a1a" stroke-width="0.65"/>
<line x1="298.7" y1="339.6" x2="300.4" y2="339.6" stroke="#1a1a1a" stroke-width="0.65"/>
<line x1="298.7" y1="338.8" x2="300.4" y2="338.8" stroke="#1a1a1a" stroke-width="0.65"/>
<line x1="298.7" y1="338.11" x2="300.4" y2="338.11" stroke="#1a1a1a" stroke-width="0.65"/>
<line x1="298.7" y1="337.5" x2="300.4" y2="337.5" stroke="#1a1a1a" stroke-width="0.65"/>
<line x1="297.3" y1="348.9" x2="300.4" y2="348.9" stroke="#1a1a1a" stroke-width="1"/>
<text transform="translate(294.7 352.9) scale(0.95 1)" font-size="7.8" text-anchor="end" fill="#231f20">10<tspan font-size="4.8" dy="-3">9</tspan></text>
<line x1="298.7" y1="357.25" x2="300.4" y2="357.25" stroke="#1a1a1a" stroke-width="0.65"/>
<line x1="298.7" y1="355.15" x2="300.4" y2="355.15" stroke="#1a1a1a" stroke-width="0.65"/>
<line x1="298.7" y1="353.66" x2="300.4" y2="353.66" stroke="#1a1a1a" stroke-width="0.65"/>
<line x1="298.7" y1="352.5" x2="300.4" y2="352.5" stroke="#1a1a1a" stroke-width="0.65"/>
<line x1="298.7" y1="351.55" x2="300.4" y2="351.55" stroke="#1a1a1a" stroke-width="0.65"/>
<line x1="298.7" y1="350.75" x2="300.4" y2="350.75" stroke="#1a1a1a" stroke-width="0.65"/>
<line x1="298.7" y1="350.06" x2="300.4" y2="350.06" stroke="#1a1a1a" stroke-width="0.65"/>
<line x1="298.7" y1="349.45" x2="300.4" y2="349.45" stroke="#1a1a1a" stroke-width="0.65"/>
<line x1="297.3" y1="360.85" x2="300.4" y2="360.85" stroke="#1a1a1a" stroke-width="1"/>
<text transform="translate(294.7 364.85) scale(0.95 1)" font-size="7.8" text-anchor="end" fill="#231f20">10<tspan font-size="4.8" dy="-3">8</tspan></text>
<line x1="298.7" y1="369.2" x2="300.4" y2="369.2" stroke="#1a1a1a" stroke-width="0.65"/>
<line x1="298.7" y1="367.1" x2="300.4" y2="367.1" stroke="#1a1a1a" stroke-width="0.65"/>
<line x1="298.7" y1="365.61" x2="300.4" y2="365.61" stroke="#1a1a1a" stroke-width="0.65"/>
<line x1="298.7" y1="364.45" x2="300.4" y2="364.45" stroke="#1a1a1a" stroke-width="0.65"/>
<line x1="298.7" y1="363.5" x2="300.4" y2="363.5" stroke="#1a1a1a" stroke-width="0.65"/>
<line x1="298.7" y1="362.7" x2="300.4" y2="362.7" stroke="#1a1a1a" stroke-width="0.65"/>
<line x1="298.7" y1="362.01" x2="300.4" y2="362.01" stroke="#1a1a1a" stroke-width="0.65"/>
<line x1="298.7" y1="361.4" x2="300.4" y2="361.4" stroke="#1a1a1a" stroke-width="0.65"/>
<line x1="297.3" y1="372.8" x2="300.4" y2="372.8" stroke="#1a1a1a" stroke-width="1"/>
<text transform="translate(294.7 376.8) scale(0.95 1)" font-size="7.8" text-anchor="end" fill="#231f20">10<tspan font-size="4.8" dy="-3">7</tspan></text>
<line x1="298.7" y1="381.15" x2="300.4" y2="381.15" stroke="#1a1a1a" stroke-width="0.65"/>
<line x1="298.7" y1="379.05" x2="300.4" y2="379.05" stroke="#1a1a1a" stroke-width="0.65"/>
<line x1="298.7" y1="377.56" x2="300.4" y2="377.56" stroke="#1a1a1a" stroke-width="0.65"/>
<line x1="298.7" y1="376.4" x2="300.4" y2="376.4" stroke="#1a1a1a" stroke-width="0.65"/>
<line x1="298.7" y1="375.45" x2="300.4" y2="375.45" stroke="#1a1a1a" stroke-width="0.65"/>
<line x1="298.7" y1="374.65" x2="300.4" y2="374.65" stroke="#1a1a1a" stroke-width="0.65"/>
<line x1="298.7" y1="373.96" x2="300.4" y2="373.96" stroke="#1a1a1a" stroke-width="0.65"/>
<line x1="298.7" y1="373.35" x2="300.4" y2="373.35" stroke="#1a1a1a" stroke-width="0.65"/>
<line x1="297.3" y1="384.75" x2="300.4" y2="384.75" stroke="#1a1a1a" stroke-width="1"/>
<text transform="translate(294.7 388.75) scale(0.95 1)" font-size="7.8" text-anchor="end" fill="#231f20">10<tspan font-size="4.8" dy="-3">6</tspan></text>
<line x1="298.7" y1="393.1" x2="300.4" y2="393.1" stroke="#1a1a1a" stroke-width="0.65"/>
<line x1="298.7" y1="391" x2="300.4" y2="391" stroke="#1a1a1a" stroke-width="0.65"/>
<line x1="298.7" y1="389.51" x2="300.4" y2="389.51" stroke="#1a1a1a" stroke-width="0.65"/>
<line x1="298.7" y1="388.35" x2="300.4" y2="388.35" stroke="#1a1a1a" stroke-width="0.65"/>
<line x1="298.7" y1="387.4" x2="300.4" y2="387.4" stroke="#1a1a1a" stroke-width="0.65"/>
<line x1="298.7" y1="386.6" x2="300.4" y2="386.6" stroke="#1a1a1a" stroke-width="0.65"/>
<line x1="298.7" y1="385.91" x2="300.4" y2="385.91" stroke="#1a1a1a" stroke-width="0.65"/>
<line x1="298.7" y1="385.3" x2="300.4" y2="385.3" stroke="#1a1a1a" stroke-width="0.65"/>
<line x1="297.3" y1="396.7" x2="300.4" y2="396.7" stroke="#1a1a1a" stroke-width="1"/>
<text transform="translate(294.7 400.7) scale(0.95 1)" font-size="7.8" text-anchor="end" fill="#231f20">10<tspan font-size="4.8" dy="-3">5</tspan></text>
<line x1="299.82" y1="396.7" x2="408.5" y2="396.7" stroke="#1a1a1a" stroke-width="1.15"/>
<line x1="309.38" y1="396.7" x2="309.38" y2="399.8" stroke="#1a1a1a" stroke-width="1"/>
<text transform="translate(309.38 409) scale(0.86 1)" font-size="8.2" text-anchor="middle" fill="#231f20">-7</text>
<line x1="327.3" y1="396.7" x2="327.3" y2="399.8" stroke="#1a1a1a" stroke-width="1"/>
<text transform="translate(327.3 409) scale(0.86 1)" font-size="8.2" text-anchor="middle" fill="#231f20">0</text>
<line x1="345.22" y1="396.7" x2="345.22" y2="399.8" stroke="#1a1a1a" stroke-width="1"/>
<text transform="translate(345.22 409) scale(0.86 1)" font-size="8.2" text-anchor="middle" fill="#231f20">7</text>
<line x1="363.14" y1="396.7" x2="363.14" y2="399.8" stroke="#1a1a1a" stroke-width="1"/>
<text transform="translate(363.14 409) scale(0.86 1)" font-size="8.2" text-anchor="middle" fill="#231f20">14</text>
<line x1="381.06" y1="396.7" x2="381.06" y2="399.8" stroke="#1a1a1a" stroke-width="1"/>
<text transform="translate(381.06 409) scale(0.86 1)" font-size="8.2" text-anchor="middle" fill="#231f20">21</text>
<line x1="398.98" y1="396.7" x2="398.98" y2="399.8" stroke="#1a1a1a" stroke-width="1"/>
<text transform="translate(398.98 409) scale(0.86 1)" font-size="8.2" text-anchor="middle" fill="#231f20">28</text>
<polyline points="309.38,380.82 327.3,361.7 345.22,341.38 363.14,332.42" fill="none" stroke="#b3dd9c" stroke-width="0.65" stroke-linejoin="round" stroke-opacity="0.85"/>
<polyline points="309.38,381.42 327.3,362.3 345.22,341.98 363.14,332.9" fill="none" stroke="#b3dd9c" stroke-width="0.65" stroke-linejoin="round" stroke-opacity="0.85"/>
<polyline points="309.38,380.22 327.3,361.1 345.22,340.55 363.14,331.82" fill="none" stroke="#b3dd9c" stroke-width="0.65" stroke-linejoin="round" stroke-opacity="0.85"/>
<polyline points="309.38,381.42 327.3,362.89 345.22,341.74 363.14,332.66" fill="none" stroke="#b3dd9c" stroke-width="0.65" stroke-linejoin="round" stroke-opacity="0.85"/>
<polyline points="309.38,379.62 327.3,360.5 345.22,339.83 363.14,331.23" fill="none" stroke="#b3dd9c" stroke-width="0.65" stroke-linejoin="round" stroke-opacity="0.85"/>
<polyline points="309.38,382.01 327.3,363.49 345.22,341.26 363.14,332.18" fill="none" stroke="#b3dd9c" stroke-width="0.65" stroke-linejoin="round" stroke-opacity="0.85"/>
<polyline points="309.38,380.22 327.3,361.7 345.22,340.79 363.14,331.58" fill="none" stroke="#b3dd9c" stroke-width="0.65" stroke-linejoin="round" stroke-opacity="0.85"/>
<polyline points="309.38,381.42 327.3,364.69 345.22,357.51 363.14,341.38 381.06,339.59" fill="none" stroke="#7fc25c" stroke-width="0.65" stroke-linejoin="round" stroke-opacity="0.95"/>
<polyline points="309.38,382.01 327.3,364.09 345.22,352.14 363.14,344.37 381.06,338.39" fill="none" stroke="#7fc25c" stroke-width="0.65" stroke-linejoin="round" stroke-opacity="0.95"/>
<polyline points="309.38,382.61 327.3,365.88 345.22,349.15 363.14,337.8 381.06,337.8" fill="none" stroke="#7fc25c" stroke-width="0.65" stroke-linejoin="round" stroke-opacity="0.95"/>
<polyline points="309.38,383.81 327.3,374.25 345.22,350.35 363.14,349.63 381.06,341.02 398.98,341.5" fill="none" stroke="#d4506e" stroke-width="0.65" stroke-linejoin="round" stroke-opacity="0.9" stroke-dasharray="1.6,0.8"/>
<polyline points="309.38,382.61 327.3,373.05 345.22,353.93 363.14,363.01 381.06,357.16 398.98,360.26" fill="none" stroke="#d4506e" stroke-width="0.65" stroke-linejoin="round" stroke-opacity="0.9" stroke-dasharray="1.6,0.8"/>
<polyline points="309.38,381.42 327.3,375.44 345.22,355.12 363.14,364.69 381.06,360.74 398.98,365.52" fill="none" stroke="#d4506e" stroke-width="0.65" stroke-linejoin="round" stroke-opacity="0.9" stroke-dasharray="1.6,0.8"/>
<polyline points="309.38,385 327.3,376.63 345.22,359.91 363.14,369.82 381.06,366 398.98,377.47" fill="none" stroke="#d4506e" stroke-width="0.65" stroke-linejoin="round" stroke-opacity="0.9" stroke-dasharray="1.6,0.8"/>
<polyline points="309.38,381.42 327.3,374.25 345.22,352.74 363.14,368.75 381.06,371.74 398.98,382.37" fill="none" stroke="#d4506e" stroke-width="0.65" stroke-linejoin="round" stroke-opacity="0.9" stroke-dasharray="1.6,0.8"/>
<polyline points="309.38,383.81 327.3,377.83 345.22,362.3 363.14,373.29 381.06,377.47 398.98,384.16" fill="none" stroke="#d4506e" stroke-width="0.65" stroke-linejoin="round" stroke-opacity="0.9" stroke-dasharray="1.6,0.8"/>
<polyline points="309.38,382.61 327.3,376.04 345.22,357.51 363.14,378.55 381.06,380.46 398.98,383.81" fill="none" stroke="#d4506e" stroke-width="0.65" stroke-linejoin="round" stroke-opacity="0.9" stroke-dasharray="1.6,0.8"/>
<polyline points="309.38,385 327.3,378.43 345.22,361.1 363.14,375.44 381.06,382.61 398.98,385" fill="none" stroke="#d4506e" stroke-width="0.65" stroke-linejoin="round" stroke-opacity="0.9" stroke-dasharray="1.6,0.8"/>
<polyline points="309.38,383.21 327.3,374.84 345.22,355.72 363.14,367.07 381.06,379.02 398.98,383.21" fill="none" stroke="#d4506e" stroke-width="0.65" stroke-linejoin="round" stroke-opacity="0.9" stroke-dasharray="1.6,0.8"/>
<polyline points="309.38,388.58 327.3,381.42 345.22,368.27 363.14,384.4 381.06,386.19 398.98,386.79" fill="none" stroke="#4866a3" stroke-width="0.7" stroke-linejoin="round" stroke-opacity="0.9" stroke-dasharray="0.9,0.7"/>
<polyline points="309.38,386.19 327.3,380.82 345.22,362.3 363.14,382.61 381.06,385 398.98,386.19" fill="none" stroke="#4866a3" stroke-width="0.7" stroke-linejoin="round" stroke-opacity="0.9" stroke-dasharray="0.9,0.7"/>
<polyline points="309.38,385 327.3,380.22 345.22,359.91 363.14,379.02 381.06,381.42 398.98,385" fill="none" stroke="#4866a3" stroke-width="0.7" stroke-linejoin="round" stroke-opacity="0.9" stroke-dasharray="0.9,0.7"/>
<polyline points="309.38,383.81 327.3,381.42 345.22,365.88 363.14,383.81 381.06,386.79 398.98,387.39" fill="none" stroke="#4866a3" stroke-width="0.7" stroke-linejoin="round" stroke-opacity="0.9" stroke-dasharray="0.9,0.7"/>
<polyline points="309.38,382.61 327.3,379.62 345.22,358.71 363.14,377.23 381.06,377.83 398.98,383.81" fill="none" stroke="#4866a3" stroke-width="0.7" stroke-linejoin="round" stroke-opacity="0.9" stroke-dasharray="0.9,0.7"/>
<polyline points="309.38,386.19 327.3,382.61 345.22,370.66 363.14,380.22 381.06,382.61 398.98,386.19" fill="none" stroke="#4866a3" stroke-width="0.7" stroke-linejoin="round" stroke-opacity="0.9" stroke-dasharray="0.9,0.7"/>
<polyline points="309.38,385 327.3,380.22 345.22,380.22 363.14,383.57 381.06,385.6 398.98,386.79" fill="none" stroke="#4866a3" stroke-width="0.7" stroke-linejoin="round" stroke-opacity="0.9" stroke-dasharray="0.9,0.7"/>
<polyline points="309.38,383.81 327.3,381.42 345.22,364.69 363.14,385.24 381.06,386.19 398.98,387.39" fill="none" stroke="#4866a3" stroke-width="0.7" stroke-linejoin="round" stroke-opacity="0.9" stroke-dasharray="0.9,0.7"/>
<polyline points="309.38,389.78 327.3,380.22 345.22,373.05 363.14,381.42 381.06,379.02 398.98,385" fill="none" stroke="#4866a3" stroke-width="0.7" stroke-linejoin="round" stroke-opacity="0.9" stroke-dasharray="0.9,0.7"/>
<polyline points="309.38,385 327.3,382.01 345.22,363.49 363.14,376.63 381.06,383.81 398.98,385.6" fill="none" stroke="#4866a3" stroke-width="0.7" stroke-linejoin="round" stroke-opacity="0.9" stroke-dasharray="0.9,0.7"/>
<polyline points="309.38,382.61 327.3,379.62 345.22,361.1 363.14,382.61 381.06,385 398.98,386.79" fill="none" stroke="#4866a3" stroke-width="0.7" stroke-linejoin="round" stroke-opacity="0.9" stroke-dasharray="0.9,0.7"/>
<polyline points="309.38,385.6 327.3,381.42 345.22,367.07 363.14,385 381.06,386.79 398.98,387.03" fill="none" stroke="#4866a3" stroke-width="0.7" stroke-linejoin="round" stroke-opacity="0.9" stroke-dasharray="0.9,0.7"/>
<polyline points="309.38,384.4 327.3,380.82 345.22,369.47 363.14,377.83 381.06,376.63 398.98,382.61" fill="none" stroke="#4866a3" stroke-width="0.7" stroke-linejoin="round" stroke-opacity="0.9" stroke-dasharray="0.9,0.7"/>
<polyline points="309.38,380.82 327.3,363.49 345.22,345.8 363.14,336.48 381.06,338.99" fill="none" stroke="#4fa52c" stroke-width="1.7" stroke-linejoin="round"/>
<polyline points="309.38,382.61 327.3,368.87 345.22,356.32 363.14,361.58 381.06,352.5 398.98,353.45" fill="none" stroke="#b0163d" stroke-width="1.7" stroke-linejoin="round"/>
<polyline points="309.38,383.81 327.3,372.57 345.22,363.13 363.14,382.01 381.06,384.04 398.98,385" fill="none" stroke="#2d4f8e" stroke-width="1.7" stroke-linejoin="round"/>
<line x1="327.4" y1="341.6" x2="327.4" y2="351" stroke="#000" stroke-width="1.2"/>
<path d="M324.2,349.4 L330.6,349.4 L327.4,356.6 Z" fill="#000"/>
<line x1="405" y1="320.4" x2="412.7" y2="320.4" stroke="#b0163d" stroke-width="1.3"/>
<text x="416.2" y="323" font-size="7.45" fill="#231f20">WT CAR-T (n=10)</text>
<line x1="405" y1="332" x2="412.7" y2="332" stroke="#2d4f8e" stroke-width="1.3"/>
<text x="416.2" y="334.6" font-size="7.45" fill="#231f20">KO CAR-T (n=14)</text>
<line x1="405" y1="343.5" x2="412.7" y2="343.5" stroke="#4fa52c" stroke-width="1.3"/>
<text x="416.2" y="346.1" font-size="7.45" fill="#231f20">Control T cells (n=10)</text>
<text x="7.6" y="443.1" font-size="13.3" font-weight="bold" fill="#000">H</text>
<text x="64.8" y="451.8" font-size="9.2" text-anchor="middle" fill="#231f20">Spleen</text>
<text x="139.8" y="451.8" font-size="9.3" text-anchor="middle" fill="#231f20">Bone marrow</text>
<line x1="40.8" y1="532" x2="40.8" y2="457.5" stroke="#1a1a1a" stroke-width="1.15"/>
<line x1="37.7" y1="460" x2="40.8" y2="460" stroke="#1a1a1a" stroke-width="1"/>
<text transform="translate(35.1 464) scale(0.95 1)" font-size="7.8" text-anchor="end" fill="#231f20">10<tspan font-size="4.8" dy="-3">8</tspan></text>
<line x1="37.7" y1="472" x2="40.8" y2="472" stroke="#1a1a1a" stroke-width="1"/>
<text transform="translate(35.1 476) scale(0.95 1)" font-size="7.8" text-anchor="end" fill="#231f20">10<tspan font-size="4.8" dy="-3">7</tspan></text>
<line x1="37.7" y1="484" x2="40.8" y2="484" stroke="#1a1a1a" stroke-width="1"/>
<text transform="translate(35.1 488) scale(0.95 1)" font-size="7.8" text-anchor="end" fill="#231f20">10<tspan font-size="4.8" dy="-3">6</tspan></text>
<line x1="37.7" y1="496" x2="40.8" y2="496" stroke="#1a1a1a" stroke-width="1"/>
<text transform="translate(35.1 500) scale(0.95 1)" font-size="7.8" text-anchor="end" fill="#231f20">10<tspan font-size="4.8" dy="-3">5</tspan></text>
<line x1="37.7" y1="508" x2="40.8" y2="508" stroke="#1a1a1a" stroke-width="1"/>
<text transform="translate(35.1 512) scale(0.95 1)" font-size="7.8" text-anchor="end" fill="#231f20">10<tspan font-size="4.8" dy="-3">4</tspan></text>
<line x1="37.7" y1="520" x2="40.8" y2="520" stroke="#1a1a1a" stroke-width="1"/>
<text transform="translate(35.1 524) scale(0.95 1)" font-size="7.8" text-anchor="end" fill="#231f20">10<tspan font-size="4.8" dy="-3">3</tspan></text>
<line x1="37.7" y1="532" x2="40.8" y2="532" stroke="#1a1a1a" stroke-width="1"/>
<text transform="translate(35.1 536) scale(0.95 1)" font-size="7.8" text-anchor="end" fill="#231f20">10<tspan font-size="4.8" dy="-3">2</tspan></text>
<line x1="40.22" y1="532" x2="88.7" y2="532" stroke="#1a1a1a" stroke-width="1.15"/>
<line x1="52.3" y1="532" x2="52.3" y2="535.1" stroke="#1a1a1a" stroke-width="1"/>
<line x1="76.7" y1="532" x2="76.7" y2="535.1" stroke="#1a1a1a" stroke-width="1"/>
<text x="52.3" y="543.9" font-size="7.6" text-anchor="middle" fill="#231f20">Day 7</text>
<text x="76.7" y="543.9" font-size="7.6" text-anchor="middle" fill="#231f20">Day 35</text>
<line x1="115.6" y1="532" x2="115.6" y2="457.5" stroke="#1a1a1a" stroke-width="1.15"/>
<line x1="112.5" y1="460" x2="115.6" y2="460" stroke="#1a1a1a" stroke-width="1"/>
<text transform="translate(109.9 464) scale(0.95 1)" font-size="7.8" text-anchor="end" fill="#231f20">10<tspan font-size="4.8" dy="-3">8</tspan></text>
<line x1="112.5" y1="472" x2="115.6" y2="472" stroke="#1a1a1a" stroke-width="1"/>
<text transform="translate(109.9 476) scale(0.95 1)" font-size="7.8" text-anchor="end" fill="#231f20">10<tspan font-size="4.8" dy="-3">7</tspan></text>
<line x1="112.5" y1="484" x2="115.6" y2="484" stroke="#1a1a1a" stroke-width="1"/>
<text transform="translate(109.9 488) scale(0.95 1)" font-size="7.8" text-anchor="end" fill="#231f20">10<tspan font-size="4.8" dy="-3">6</tspan></text>
<line x1="112.5" y1="496" x2="115.6" y2="496" stroke="#1a1a1a" stroke-width="1"/>
<text transform="translate(109.9 500) scale(0.95 1)" font-size="7.8" text-anchor="end" fill="#231f20">10<tspan font-size="4.8" dy="-3">5</tspan></text>
<line x1="112.5" y1="508" x2="115.6" y2="508" stroke="#1a1a1a" stroke-width="1"/>
<text transform="translate(109.9 512) scale(0.95 1)" font-size="7.8" text-anchor="end" fill="#231f20">10<tspan font-size="4.8" dy="-3">4</tspan></text>
<line x1="112.5" y1="520" x2="115.6" y2="520" stroke="#1a1a1a" stroke-width="1"/>
<text transform="translate(109.9 524) scale(0.95 1)" font-size="7.8" text-anchor="end" fill="#231f20">10<tspan font-size="4.8" dy="-3">3</tspan></text>
<line x1="112.5" y1="532" x2="115.6" y2="532" stroke="#1a1a1a" stroke-width="1"/>
<text transform="translate(109.9 536) scale(0.95 1)" font-size="7.8" text-anchor="end" fill="#231f20">10<tspan font-size="4.8" dy="-3">2</tspan></text>
<line x1="115.02" y1="532" x2="163.5" y2="532" stroke="#1a1a1a" stroke-width="1.15"/>
<line x1="127.2" y1="532" x2="127.2" y2="535.1" stroke="#1a1a1a" stroke-width="1"/>
<line x1="150.9" y1="532" x2="150.9" y2="535.1" stroke="#1a1a1a" stroke-width="1"/>
<text x="127.2" y="543.9" font-size="7.6" text-anchor="middle" fill="#231f20">Day 7</text>
<text x="150.9" y="543.9" font-size="7.6" text-anchor="middle" fill="#231f20">Day 35</text>
<line x1="40.8" y1="632.6" x2="40.8" y2="558" stroke="#1a1a1a" stroke-width="1.15"/>
<line x1="37.7" y1="560.5" x2="40.8" y2="560.5" stroke="#1a1a1a" stroke-width="1"/>
<text transform="translate(35.1 564.5) scale(0.95 1)" font-size="7.8" text-anchor="end" fill="#231f20">10<tspan font-size="4.8" dy="-3">8</tspan></text>
<line x1="37.7" y1="572.52" x2="40.8" y2="572.52" stroke="#1a1a1a" stroke-width="1"/>
<text transform="translate(35.1 576.52) scale(0.95 1)" font-size="7.8" text-anchor="end" fill="#231f20">10<tspan font-size="4.8" dy="-3">7</tspan></text>
<line x1="37.7" y1="584.54" x2="40.8" y2="584.54" stroke="#1a1a1a" stroke-width="1"/>
<text transform="translate(35.1 588.54) scale(0.95 1)" font-size="7.8" text-anchor="end" fill="#231f20">10<tspan font-size="4.8" dy="-3">6</tspan></text>
<line x1="37.7" y1="596.56" x2="40.8" y2="596.56" stroke="#1a1a1a" stroke-width="1"/>
<text transform="translate(35.1 600.56) scale(0.95 1)" font-size="7.8" text-anchor="end" fill="#231f20">10<tspan font-size="4.8" dy="-3">5</tspan></text>
<line x1="37.7" y1="608.58" x2="40.8" y2="608.58" stroke="#1a1a1a" stroke-width="1"/>
<text transform="translate(35.1 612.58) scale(0.95 1)" font-size="7.8" text-anchor="end" fill="#231f20">10<tspan font-size="4.8" dy="-3">4</tspan></text>
<line x1="37.7" y1="620.6" x2="40.8" y2="620.6" stroke="#1a1a1a" stroke-width="1"/>
<text transform="translate(35.1 624.6) scale(0.95 1)" font-size="7.8" text-anchor="end" fill="#231f20">10<tspan font-size="4.8" dy="-3">3</tspan></text>
<line x1="37.7" y1="632.62" x2="40.8" y2="632.62" stroke="#1a1a1a" stroke-width="1"/>
<text transform="translate(35.1 636.62) scale(0.95 1)" font-size="7.8" text-anchor="end" fill="#231f20">10<tspan font-size="4.8" dy="-3">2</tspan></text>
<line x1="40.22" y1="632.6" x2="88.5" y2="632.6" stroke="#1a1a1a" stroke-width="1.15"/>
<line x1="52.6" y1="632.6" x2="52.6" y2="635.7" stroke="#1a1a1a" stroke-width="1"/>
<line x1="76.5" y1="632.6" x2="76.5" y2="635.7" stroke="#1a1a1a" stroke-width="1"/>
<text x="52.6" y="644.8" font-size="7.6" text-anchor="middle" fill="#231f20">Day 7</text>
<text x="76.5" y="644.8" font-size="7.6" text-anchor="middle" fill="#231f20">Day 35</text>
<line x1="115.5" y1="632.6" x2="115.5" y2="558" stroke="#1a1a1a" stroke-width="1.15"/>
<line x1="112.4" y1="560.5" x2="115.5" y2="560.5" stroke="#1a1a1a" stroke-width="1"/>
<text transform="translate(109.8 564.5) scale(0.95 1)" font-size="7.8" text-anchor="end" fill="#231f20">10<tspan font-size="4.8" dy="-3">8</tspan></text>
<line x1="112.4" y1="572.52" x2="115.5" y2="572.52" stroke="#1a1a1a" stroke-width="1"/>
<text transform="translate(109.8 576.52) scale(0.95 1)" font-size="7.8" text-anchor="end" fill="#231f20">10<tspan font-size="4.8" dy="-3">7</tspan></text>
<line x1="112.4" y1="584.54" x2="115.5" y2="584.54" stroke="#1a1a1a" stroke-width="1"/>
<text transform="translate(109.8 588.54) scale(0.95 1)" font-size="7.8" text-anchor="end" fill="#231f20">10<tspan font-size="4.8" dy="-3">6</tspan></text>
<line x1="112.4" y1="596.56" x2="115.5" y2="596.56" stroke="#1a1a1a" stroke-width="1"/>
<text transform="translate(109.8 600.56) scale(0.95 1)" font-size="7.8" text-anchor="end" fill="#231f20">10<tspan font-size="4.8" dy="-3">5</tspan></text>
<line x1="112.4" y1="608.58" x2="115.5" y2="608.58" stroke="#1a1a1a" stroke-width="1"/>
<text transform="translate(109.8 612.58) scale(0.95 1)" font-size="7.8" text-anchor="end" fill="#231f20">10<tspan font-size="4.8" dy="-3">4</tspan></text>
<line x1="112.4" y1="620.6" x2="115.5" y2="620.6" stroke="#1a1a1a" stroke-width="1"/>
<text transform="translate(109.8 624.6) scale(0.95 1)" font-size="7.8" text-anchor="end" fill="#231f20">10<tspan font-size="4.8" dy="-3">3</tspan></text>
<line x1="112.4" y1="632.62" x2="115.5" y2="632.62" stroke="#1a1a1a" stroke-width="1"/>
<text transform="translate(109.8 636.62) scale(0.95 1)" font-size="7.8" text-anchor="end" fill="#231f20">10<tspan font-size="4.8" dy="-3">2</tspan></text>
<line x1="114.92" y1="632.6" x2="163.5" y2="632.6" stroke="#1a1a1a" stroke-width="1.15"/>
<line x1="127.3" y1="632.6" x2="127.3" y2="635.7" stroke="#1a1a1a" stroke-width="1"/>
<line x1="151.2" y1="632.6" x2="151.2" y2="635.7" stroke="#1a1a1a" stroke-width="1"/>
<text x="127.3" y="644.8" font-size="7.6" text-anchor="middle" fill="#231f20">Day 7</text>
<text x="151.2" y="644.8" font-size="7.6" text-anchor="middle" fill="#231f20">Day 35</text>
<circle cx="44" cy="507.3" r="2.15" fill="none" stroke="#c8344f" stroke-width="0.85"/>
<circle cx="50.7" cy="508.8" r="2.15" fill="none" stroke="#c8344f" stroke-width="0.85"/>
<circle cx="48.7" cy="511.6" r="2.15" fill="none" stroke="#c8344f" stroke-width="0.85"/>
<circle cx="46" cy="510.2" r="2.15" fill="none" stroke="#c8344f" stroke-width="0.85"/>
<circle cx="47.2" cy="520" r="2.15" fill="none" stroke="#c8344f" stroke-width="0.85"/>
<line x1="42.9" y1="510.2" x2="52.4" y2="510.2" stroke="#111" stroke-width="0.9"/>
<line x1="47.65" y1="509" x2="47.65" y2="511.4" stroke="#111" stroke-width="0.8"/>
<line x1="45.15" y1="509" x2="50.15" y2="509" stroke="#111" stroke-width="0.8"/>
<line x1="45.15" y1="511.4" x2="50.15" y2="511.4" stroke="#111" stroke-width="0.8"/>
<circle cx="55.6" cy="497.5" r="2.15" fill="none" stroke="#4a6aa8" stroke-width="0.85"/>
<circle cx="60.8" cy="497.5" r="2.15" fill="none" stroke="#4a6aa8" stroke-width="0.85"/>
<circle cx="55.3" cy="503" r="2.15" fill="none" stroke="#4a6aa8" stroke-width="0.85"/>
<circle cx="60.5" cy="503.6" r="2.15" fill="none" stroke="#4a6aa8" stroke-width="0.85"/>
<circle cx="58.2" cy="506.7" r="2.15" fill="none" stroke="#4a6aa8" stroke-width="0.85"/>
<line x1="53.3" y1="500.7" x2="63.1" y2="500.7" stroke="#111" stroke-width="0.9"/>
<line x1="58.2" y1="498.8" x2="58.2" y2="502.6" stroke="#111" stroke-width="0.8"/>
<line x1="55.7" y1="498.8" x2="60.7" y2="498.8" stroke="#111" stroke-width="0.8"/>
<line x1="55.7" y1="502.6" x2="60.7" y2="502.6" stroke="#111" stroke-width="0.8"/>
<circle cx="71.5" cy="484.4" r="2.15" fill="none" stroke="#c8344f" stroke-width="0.85"/>
<circle cx="71.5" cy="492.7" r="2.15" fill="none" stroke="#c8344f" stroke-width="0.85"/>
<circle cx="71.5" cy="503" r="2.15" fill="none" stroke="#c8344f" stroke-width="0.85"/>
<circle cx="71.5" cy="513.8" r="2.15" fill="none" stroke="#c8344f" stroke-width="0.85"/>
<line x1="67.7" y1="490.8" x2="76" y2="490.8" stroke="#111" stroke-width="0.9"/>
<line x1="71.85" y1="487.7" x2="71.85" y2="497" stroke="#111" stroke-width="0.8"/>
<line x1="69.35" y1="487.7" x2="74.35" y2="487.7" stroke="#111" stroke-width="0.8"/>
<line x1="69.35" y1="497" x2="74.35" y2="497" stroke="#111" stroke-width="0.8"/>
<circle cx="82.3" cy="466.5" r="2.15" fill="none" stroke="#4a6aa8" stroke-width="0.85"/>
<circle cx="79.8" cy="471.5" r="2.15" fill="none" stroke="#4a6aa8" stroke-width="0.85"/>
<circle cx="87.5" cy="473.5" r="2.15" fill="none" stroke="#4a6aa8" stroke-width="0.85"/>
<circle cx="84.6" cy="477.3" r="2.15" fill="none" stroke="#4a6aa8" stroke-width="0.85"/>
<circle cx="79.8" cy="480" r="2.15" fill="none" stroke="#4a6aa8" stroke-width="0.85"/>
<line x1="78" y1="472" x2="88" y2="472" stroke="#111" stroke-width="0.9"/>
<line x1="83" y1="469.5" x2="83" y2="474.5" stroke="#111" stroke-width="0.8"/>
<line x1="80.5" y1="469.5" x2="85.5" y2="469.5" stroke="#111" stroke-width="0.8"/>
<line x1="80.5" y1="474.5" x2="85.5" y2="474.5" stroke="#111" stroke-width="0.8"/>
<line x1="48" y1="492" x2="57.3" y2="492" stroke="#111" stroke-width="1.05"/>
<circle cx="51.15" cy="489" r="0.92" fill="#1a1a1a"/>
<circle cx="54.15" cy="489" r="0.92" fill="#1a1a1a"/>
<line x1="73" y1="462" x2="81.7" y2="462" stroke="#111" stroke-width="1.05"/>
<circle cx="77.35" cy="459" r="0.92" fill="#1a1a1a"/>
<circle cx="120.3" cy="494.9" r="2.15" fill="none" stroke="#c8344f" stroke-width="0.85"/>
<circle cx="122.9" cy="496.3" r="2.15" fill="none" stroke="#c8344f" stroke-width="0.85"/>
<circle cx="122" cy="498.3" r="2.15" fill="none" stroke="#c8344f" stroke-width="0.85"/>
<circle cx="124.5" cy="495" r="2.15" fill="none" stroke="#c8344f" stroke-width="0.85"/>
<line x1="117.7" y1="496.1" x2="126.3" y2="496.1" stroke="#111" stroke-width="0.9"/>
<line x1="122" y1="495.3" x2="122" y2="497" stroke="#111" stroke-width="0.8"/>
<line x1="119.5" y1="495.3" x2="124.5" y2="495.3" stroke="#111" stroke-width="0.8"/>
<line x1="119.5" y1="497" x2="124.5" y2="497" stroke="#111" stroke-width="0.8"/>
<circle cx="130.7" cy="493.1" r="2.15" fill="none" stroke="#4a6aa8" stroke-width="0.85"/>
<circle cx="133.3" cy="498.3" r="2.15" fill="none" stroke="#4a6aa8" stroke-width="0.85"/>
<circle cx="135" cy="494.5" r="2.15" fill="none" stroke="#4a6aa8" stroke-width="0.85"/>
<circle cx="132" cy="495" r="2.15" fill="none" stroke="#4a6aa8" stroke-width="0.85"/>
<line x1="128" y1="494.9" x2="137" y2="494.9" stroke="#111" stroke-width="0.9"/>
<line x1="132.5" y1="494" x2="132.5" y2="496" stroke="#111" stroke-width="0.8"/>
<line x1="130" y1="494" x2="135" y2="494" stroke="#111" stroke-width="0.8"/>
<line x1="130" y1="496" x2="135" y2="496" stroke="#111" stroke-width="0.8"/>
<circle cx="148.5" cy="491" r="2.15" fill="none" stroke="#c8344f" stroke-width="0.85"/>
<circle cx="143.6" cy="496.6" r="2.15" fill="none" stroke="#c8344f" stroke-width="0.85"/>
<circle cx="146.2" cy="514.3" r="2.15" fill="none" stroke="#c8344f" stroke-width="0.85"/>
<circle cx="146.2" cy="520.3" r="2.15" fill="none" stroke="#c8344f" stroke-width="0.85"/>
<line x1="141" y1="496.6" x2="150.5" y2="496.6" stroke="#111" stroke-width="0.9"/>
<line x1="145.75" y1="491" x2="145.75" y2="502.3" stroke="#111" stroke-width="0.8"/>
<line x1="143.25" y1="491" x2="148.25" y2="491" stroke="#111" stroke-width="0.8"/>
<line x1="143.25" y1="502.3" x2="148.25" y2="502.3" stroke="#111" stroke-width="0.8"/>
<circle cx="156.6" cy="481" r="2.15" fill="none" stroke="#4a6aa8" stroke-width="0.85"/>
<circle cx="160" cy="484.5" r="2.15" fill="none" stroke="#4a6aa8" stroke-width="0.85"/>
<circle cx="153.1" cy="486.7" r="2.15" fill="none" stroke="#4a6aa8" stroke-width="0.85"/>
<circle cx="155.7" cy="489.7" r="2.15" fill="none" stroke="#4a6aa8" stroke-width="0.85"/>
<circle cx="158.5" cy="486" r="2.15" fill="none" stroke="#4a6aa8" stroke-width="0.85"/>
<line x1="152" y1="485.4" x2="162" y2="485.4" stroke="#111" stroke-width="0.9"/>
<line x1="157" y1="483.8" x2="157" y2="487" stroke="#111" stroke-width="0.8"/>
<line x1="154.5" y1="483.8" x2="159.5" y2="483.8" stroke="#111" stroke-width="0.8"/>
<line x1="154.5" y1="487" x2="159.5" y2="487" stroke="#111" stroke-width="0.8"/>
<line x1="147.4" y1="472.4" x2="156.6" y2="472.4" stroke="#111" stroke-width="1.05"/>
<circle cx="152" cy="469.4" r="0.92" fill="#1a1a1a"/>
<circle cx="43.8" cy="612" r="2.15" fill="none" stroke="#c8344f" stroke-width="0.85"/>
<circle cx="46.5" cy="615.4" r="2.15" fill="none" stroke="#c8344f" stroke-width="0.85"/>
<circle cx="48.5" cy="614.6" r="2.15" fill="none" stroke="#c8344f" stroke-width="0.85"/>
<circle cx="50.8" cy="614.3" r="2.15" fill="none" stroke="#c8344f" stroke-width="0.85"/>
<circle cx="47.4" cy="627" r="2.15" fill="none" stroke="#c8344f" stroke-width="0.85"/>
<line x1="43.8" y1="615" x2="52.3" y2="615" stroke="#111" stroke-width="0.9"/>
<line x1="48.05" y1="613.5" x2="48.05" y2="616.5" stroke="#111" stroke-width="0.8"/>
<line x1="45.55" y1="613.5" x2="50.55" y2="613.5" stroke="#111" stroke-width="0.8"/>
<line x1="45.55" y1="616.5" x2="50.55" y2="616.5" stroke="#111" stroke-width="0.8"/>
<circle cx="55.7" cy="604.2" r="2.15" fill="none" stroke="#4a6aa8" stroke-width="0.85"/>
<circle cx="60.8" cy="605" r="2.15" fill="none" stroke="#4a6aa8" stroke-width="0.85"/>
<circle cx="56.9" cy="609.2" r="2.15" fill="none" stroke="#4a6aa8" stroke-width="0.85"/>
<circle cx="60.3" cy="610.8" r="2.15" fill="none" stroke="#4a6aa8" stroke-width="0.85"/>
<circle cx="58.5" cy="613.8" r="2.15" fill="none" stroke="#4a6aa8" stroke-width="0.85"/>
<line x1="54.6" y1="607.7" x2="62.3" y2="607.7" stroke="#111" stroke-width="0.9"/>
<line x1="58.45" y1="605.5" x2="58.45" y2="610" stroke="#111" stroke-width="0.8"/>
<line x1="55.95" y1="605.5" x2="60.95" y2="605.5" stroke="#111" stroke-width="0.8"/>
<line x1="55.95" y1="610" x2="60.95" y2="610" stroke="#111" stroke-width="0.8"/>
<circle cx="68.9" cy="582" r="2.15" fill="none" stroke="#c8344f" stroke-width="0.85"/>
<circle cx="73.8" cy="579.2" r="2.15" fill="none" stroke="#c8344f" stroke-width="0.85"/>
<circle cx="71.5" cy="603.8" r="2.15" fill="none" stroke="#c8344f" stroke-width="0.85"/>
<circle cx="71.5" cy="610.5" r="2.15" fill="none" stroke="#c8344f" stroke-width="0.85"/>
<line x1="66.9" y1="584.2" x2="76.2" y2="584.2" stroke="#111" stroke-width="0.9"/>
<line x1="71.55" y1="581.5" x2="71.55" y2="588.5" stroke="#111" stroke-width="0.8"/>
<line x1="69.05" y1="581.5" x2="74.05" y2="581.5" stroke="#111" stroke-width="0.8"/>
<line x1="69.05" y1="588.5" x2="74.05" y2="588.5" stroke="#111" stroke-width="0.8"/>
<circle cx="81.5" cy="572.8" r="2.15" fill="none" stroke="#4a6aa8" stroke-width="0.85"/>
<circle cx="84.6" cy="573.8" r="2.15" fill="none" stroke="#4a6aa8" stroke-width="0.85"/>
<circle cx="79.2" cy="574.6" r="2.15" fill="none" stroke="#4a6aa8" stroke-width="0.85"/>
<circle cx="81.2" cy="580" r="2.15" fill="none" stroke="#4a6aa8" stroke-width="0.85"/>
<circle cx="86" cy="573.5" r="2.15" fill="none" stroke="#4a6aa8" stroke-width="0.85"/>
<line x1="77.7" y1="574.3" x2="87.7" y2="574.3" stroke="#111" stroke-width="0.9"/>
<line x1="82.7" y1="573" x2="82.7" y2="575.6" stroke="#111" stroke-width="0.8"/>
<line x1="80.2" y1="573" x2="85.2" y2="573" stroke="#111" stroke-width="0.8"/>
<line x1="80.2" y1="575.6" x2="85.2" y2="575.6" stroke="#111" stroke-width="0.8"/>
<line x1="48.5" y1="597" x2="57.2" y2="597" stroke="#111" stroke-width="1.05"/>
<circle cx="52.85" cy="594" r="0.92" fill="#1a1a1a"/>
<line x1="72.3" y1="564.2" x2="81.5" y2="564.2" stroke="#111" stroke-width="1.05"/>
<circle cx="76.9" cy="561.2" r="0.92" fill="#1a1a1a"/>
<circle cx="120.4" cy="597.7" r="2.15" fill="none" stroke="#c8344f" stroke-width="0.85"/>
<circle cx="123.9" cy="598" r="2.15" fill="none" stroke="#c8344f" stroke-width="0.85"/>
<circle cx="122.4" cy="603.8" r="2.15" fill="none" stroke="#c8344f" stroke-width="0.85"/>
<circle cx="121.5" cy="599.5" r="2.15" fill="none" stroke="#c8344f" stroke-width="0.85"/>
<line x1="117.8" y1="599.5" x2="126.5" y2="599.5" stroke="#111" stroke-width="0.9"/>
<line x1="122.15" y1="598.5" x2="122.15" y2="600.5" stroke="#111" stroke-width="0.8"/>
<line x1="119.65" y1="598.5" x2="124.65" y2="598.5" stroke="#111" stroke-width="0.8"/>
<line x1="119.65" y1="600.5" x2="124.65" y2="600.5" stroke="#111" stroke-width="0.8"/>
<circle cx="129.2" cy="599.5" r="2.15" fill="none" stroke="#4a6aa8" stroke-width="0.85"/>
<circle cx="133.2" cy="596.2" r="2.15" fill="none" stroke="#4a6aa8" stroke-width="0.85"/>
<circle cx="136.5" cy="598.5" r="2.15" fill="none" stroke="#4a6aa8" stroke-width="0.85"/>
<circle cx="131.6" cy="603.8" r="2.15" fill="none" stroke="#4a6aa8" stroke-width="0.85"/>
<line x1="128" y1="599.2" x2="136.5" y2="599.2" stroke="#111" stroke-width="0.9"/>
<line x1="132.25" y1="598" x2="132.25" y2="600.4" stroke="#111" stroke-width="0.8"/>
<line x1="129.75" y1="598" x2="134.75" y2="598" stroke="#111" stroke-width="0.8"/>
<line x1="129.75" y1="600.4" x2="134.75" y2="600.4" stroke="#111" stroke-width="0.8"/>
<circle cx="143.5" cy="587.2" r="2.15" fill="none" stroke="#c8344f" stroke-width="0.85"/>
<circle cx="148.5" cy="592.8" r="2.15" fill="none" stroke="#c8344f" stroke-width="0.85"/>
<circle cx="143.5" cy="604.6" r="2.15" fill="none" stroke="#c8344f" stroke-width="0.85"/>
<circle cx="148.5" cy="604.6" r="2.15" fill="none" stroke="#c8344f" stroke-width="0.85"/>
<line x1="141.2" y1="592.3" x2="149.6" y2="592.3" stroke="#111" stroke-width="0.9"/>
<line x1="145.4" y1="589.7" x2="145.4" y2="597.7" stroke="#111" stroke-width="0.8"/>
<line x1="142.9" y1="589.7" x2="147.9" y2="589.7" stroke="#111" stroke-width="0.8"/>
<line x1="142.9" y1="597.7" x2="147.9" y2="597.7" stroke="#111" stroke-width="0.8"/>
<circle cx="155" cy="587" r="2.15" fill="none" stroke="#4a6aa8" stroke-width="0.85"/>
<circle cx="158.5" cy="585.4" r="2.15" fill="none" stroke="#4a6aa8" stroke-width="0.85"/>
<circle cx="159.6" cy="595.4" r="2.15" fill="none" stroke="#4a6aa8" stroke-width="0.85"/>
<circle cx="154.7" cy="599.5" r="2.15" fill="none" stroke="#4a6aa8" stroke-width="0.85"/>
<circle cx="157" cy="588" r="2.15" fill="none" stroke="#4a6aa8" stroke-width="0.85"/>
<line x1="152.7" y1="588.2" x2="161.9" y2="588.2" stroke="#111" stroke-width="0.9"/>
<line x1="157.3" y1="586.5" x2="157.3" y2="590.2" stroke="#111" stroke-width="0.8"/>
<line x1="154.8" y1="586.5" x2="159.8" y2="586.5" stroke="#111" stroke-width="0.8"/>
<line x1="154.8" y1="590.2" x2="159.8" y2="590.2" stroke="#111" stroke-width="0.8"/>
<circle cx="40.5" cy="665.4" r="2" fill="none" stroke="#c8344f" stroke-width="0.85"/>
<text transform="translate(46.2 668.2) scale(0.94 1)" font-size="7.7" fill="#231f20">WT CAR-T</text>
<circle cx="40.5" cy="676.5" r="2" fill="none" stroke="#4a6aa8" stroke-width="0.85"/>
<text transform="translate(46.2 679.3) scale(0.94 1)" font-size="7.7" fill="#231f20">KO CAR-T</text>
<text x="177" y="443.1" font-size="13.3" font-weight="bold" fill="#000">I</text>
<text x="264.9" y="451.1" font-size="9.3" text-anchor="middle" fill="#231f20">Blood</text>
<line x1="220" y1="531.5" x2="220" y2="457" stroke="#1a1a1a" stroke-width="1.15"/>
<line x1="216.9" y1="531.5" x2="220" y2="531.5" stroke="#1a1a1a" stroke-width="1"/>
<text transform="translate(214 534.23) scale(0.87 1)" font-size="7.8" text-anchor="end" fill="#231f20">0</text>
<line x1="216.9" y1="507.6" x2="220" y2="507.6" stroke="#1a1a1a" stroke-width="1"/>
<text transform="translate(214 510.33) scale(0.87 1)" font-size="7.8" text-anchor="end" fill="#231f20">10</text>
<line x1="216.9" y1="483.7" x2="220" y2="483.7" stroke="#1a1a1a" stroke-width="1"/>
<text transform="translate(214 486.43) scale(0.87 1)" font-size="7.8" text-anchor="end" fill="#231f20">20</text>
<line x1="216.9" y1="459.8" x2="220" y2="459.8" stroke="#1a1a1a" stroke-width="1"/>
<text transform="translate(214 462.53) scale(0.87 1)" font-size="7.8" text-anchor="end" fill="#231f20">30</text>
<line x1="219.43" y1="531.5" x2="309.9" y2="531.5" stroke="#1a1a1a" stroke-width="1.15"/>
<line x1="231.2" y1="531.5" x2="231.2" y2="534.6" stroke="#1a1a1a" stroke-width="1"/>
<text transform="translate(231.2 544.1) scale(0.86 1)" font-size="8.2" text-anchor="middle" fill="#231f20">7</text>
<line x1="253.5" y1="531.5" x2="253.5" y2="534.6" stroke="#1a1a1a" stroke-width="1"/>
<text transform="translate(253.5 544.1) scale(0.86 1)" font-size="8.2" text-anchor="middle" fill="#231f20">21</text>
<line x1="275.8" y1="531.5" x2="275.8" y2="534.6" stroke="#1a1a1a" stroke-width="1"/>
<text transform="translate(275.8 544.1) scale(0.86 1)" font-size="8.2" text-anchor="middle" fill="#231f20">28</text>
<line x1="298.5" y1="531.5" x2="298.5" y2="534.6" stroke="#1a1a1a" stroke-width="1"/>
<text transform="translate(298.5 544.1) scale(0.86 1)" font-size="8.2" text-anchor="middle" fill="#231f20">35</text>
<line x1="220" y1="630.8" x2="220" y2="556.5" stroke="#1a1a1a" stroke-width="1.15"/>
<line x1="216.9" y1="630.8" x2="220" y2="630.8" stroke="#1a1a1a" stroke-width="1"/>
<text transform="translate(214 633.53) scale(0.87 1)" font-size="7.8" text-anchor="end" fill="#231f20">0</text>
<line x1="216.9" y1="612.83" x2="220" y2="612.83" stroke="#1a1a1a" stroke-width="1"/>
<text transform="translate(214 615.56) scale(0.87 1)" font-size="7.8" text-anchor="end" fill="#231f20">10</text>
<line x1="216.9" y1="594.86" x2="220" y2="594.86" stroke="#1a1a1a" stroke-width="1"/>
<text transform="translate(214 597.59) scale(0.87 1)" font-size="7.8" text-anchor="end" fill="#231f20">20</text>
<line x1="216.9" y1="576.89" x2="220" y2="576.89" stroke="#1a1a1a" stroke-width="1"/>
<text transform="translate(214 579.62) scale(0.87 1)" font-size="7.8" text-anchor="end" fill="#231f20">30</text>
<line x1="216.9" y1="558.92" x2="220" y2="558.92" stroke="#1a1a1a" stroke-width="1"/>
<text transform="translate(214 561.65) scale(0.87 1)" font-size="7.8" text-anchor="end" fill="#231f20">40</text>
<line x1="219.43" y1="630.8" x2="309.7" y2="630.8" stroke="#1a1a1a" stroke-width="1.15"/>
<line x1="231.2" y1="630.8" x2="231.2" y2="633.9" stroke="#1a1a1a" stroke-width="1"/>
<text transform="translate(231.2 643.4) scale(0.86 1)" font-size="8.2" text-anchor="middle" fill="#231f20">7</text>
<line x1="253.5" y1="630.8" x2="253.5" y2="633.9" stroke="#1a1a1a" stroke-width="1"/>
<text transform="translate(253.5 643.4) scale(0.86 1)" font-size="8.2" text-anchor="middle" fill="#231f20">21</text>
<line x1="275.8" y1="630.8" x2="275.8" y2="633.9" stroke="#1a1a1a" stroke-width="1"/>
<text transform="translate(275.8 643.4) scale(0.86 1)" font-size="8.2" text-anchor="middle" fill="#231f20">28</text>
<line x1="298.5" y1="630.8" x2="298.5" y2="633.9" stroke="#1a1a1a" stroke-width="1"/>
<text transform="translate(298.5 643.4) scale(0.86 1)" font-size="8.2" text-anchor="middle" fill="#231f20">35</text>
<circle cx="223.8" cy="526.7" r="2.15" fill="none" stroke="#c8344f" stroke-width="0.85"/>
<circle cx="225.7" cy="528.2" r="2.15" fill="none" stroke="#c8344f" stroke-width="0.85"/>
<circle cx="227.5" cy="529" r="2.15" fill="none" stroke="#c8344f" stroke-width="0.85"/>
<circle cx="224.5" cy="531" r="2.15" fill="none" stroke="#c8344f" stroke-width="0.85"/>
<circle cx="228.5" cy="530.5" r="2.15" fill="none" stroke="#c8344f" stroke-width="0.85"/>
<circle cx="226" cy="530.2" r="2.15" fill="none" stroke="#c8344f" stroke-width="0.85"/>
<line x1="222.3" y1="529.1" x2="230.5" y2="529.1" stroke="#111" stroke-width="0.9"/>
<circle cx="235.8" cy="517.6" r="2.15" fill="none" stroke="#4a6aa8" stroke-width="0.85"/>
<circle cx="232" cy="521" r="2.15" fill="none" stroke="#4a6aa8" stroke-width="0.85"/>
<circle cx="239.6" cy="521" r="2.15" fill="none" stroke="#4a6aa8" stroke-width="0.85"/>
<circle cx="235.8" cy="523.8" r="2.15" fill="none" stroke="#4a6aa8" stroke-width="0.85"/>
<circle cx="234.8" cy="527.2" r="2.15" fill="none" stroke="#4a6aa8" stroke-width="0.85"/>
<line x1="231.5" y1="522.4" x2="240.6" y2="522.4" stroke="#111" stroke-width="0.9"/>
<line x1="236.05" y1="520.5" x2="236.05" y2="524.3" stroke="#111" stroke-width="0.8"/>
<line x1="233.55" y1="520.5" x2="238.55" y2="520.5" stroke="#111" stroke-width="0.8"/>
<line x1="233.55" y1="524.3" x2="238.55" y2="524.3" stroke="#111" stroke-width="0.8"/>
<line x1="229.2" y1="510.4" x2="236.9" y2="510.4" stroke="#111" stroke-width="1.05"/>
<circle cx="231.55" cy="505.7" r="0.92" fill="#1a1a1a"/>
<circle cx="234.55" cy="505.7" r="0.92" fill="#1a1a1a"/>
<circle cx="248.3" cy="522.9" r="2.15" fill="none" stroke="#c8344f" stroke-width="0.85"/>
<circle cx="244.5" cy="531" r="2.15" fill="none" stroke="#c8344f" stroke-width="0.85"/>
<circle cx="247.5" cy="531" r="2.15" fill="none" stroke="#c8344f" stroke-width="0.85"/>
<circle cx="250.5" cy="531" r="2.15" fill="none" stroke="#c8344f" stroke-width="0.85"/>
<circle cx="253" cy="531" r="2.15" fill="none" stroke="#c8344f" stroke-width="0.85"/>
<line x1="243.5" y1="529.5" x2="253.5" y2="529.5" stroke="#111" stroke-width="0.9"/>
<line x1="248.5" y1="527.7" x2="248.5" y2="531.3" stroke="#111" stroke-width="0.8"/>
<line x1="246" y1="527.7" x2="251" y2="527.7" stroke="#111" stroke-width="0.8"/>
<line x1="246" y1="531.3" x2="251" y2="531.3" stroke="#111" stroke-width="0.8"/>
<circle cx="258.5" cy="477.3" r="2.15" fill="none" stroke="#4a6aa8" stroke-width="0.85"/>
<circle cx="258.4" cy="509.2" r="2.15" fill="none" stroke="#4a6aa8" stroke-width="0.85"/>
<circle cx="256.9" cy="516.2" r="2.15" fill="none" stroke="#4a6aa8" stroke-width="0.85"/>
<circle cx="260.3" cy="519.5" r="2.15" fill="none" stroke="#4a6aa8" stroke-width="0.85"/>
<circle cx="258.4" cy="521.9" r="2.15" fill="none" stroke="#4a6aa8" stroke-width="0.85"/>
<line x1="254" y1="509.2" x2="262.7" y2="509.2" stroke="#111" stroke-width="0.9"/>
<line x1="258.35" y1="500.8" x2="258.35" y2="517.6" stroke="#111" stroke-width="0.8"/>
<line x1="255.85" y1="500.8" x2="260.85" y2="500.8" stroke="#111" stroke-width="0.8"/>
<line x1="255.85" y1="517.6" x2="260.85" y2="517.6" stroke="#111" stroke-width="0.8"/>
<line x1="252.7" y1="470" x2="260" y2="470" stroke="#111" stroke-width="1.05"/>
<circle cx="256.35" cy="465.3" r="0.92" fill="#1a1a1a"/>
<circle cx="269.7" cy="525.7" r="2.15" fill="none" stroke="#c8344f" stroke-width="0.85"/>
<circle cx="271.4" cy="530.4" r="2.15" fill="none" stroke="#c8344f" stroke-width="0.85"/>
<circle cx="270.5" cy="531.5" r="2.15" fill="none" stroke="#c8344f" stroke-width="0.85"/>
<circle cx="272.5" cy="530.5" r="2.15" fill="none" stroke="#c8344f" stroke-width="0.85"/>
<line x1="266" y1="531" x2="275" y2="531" stroke="#111" stroke-width="0.9"/>
<circle cx="281" cy="516.5" r="2.15" fill="none" stroke="#4a6aa8" stroke-width="0.85"/>
<circle cx="277.6" cy="521.7" r="2.15" fill="none" stroke="#4a6aa8" stroke-width="0.85"/>
<circle cx="284.5" cy="520.5" r="2.15" fill="none" stroke="#4a6aa8" stroke-width="0.85"/>
<circle cx="280.2" cy="524.3" r="2.15" fill="none" stroke="#4a6aa8" stroke-width="0.85"/>
<circle cx="283" cy="523" r="2.15" fill="none" stroke="#4a6aa8" stroke-width="0.85"/>
<line x1="275.8" y1="521.7" x2="285.4" y2="521.7" stroke="#111" stroke-width="0.9"/>
<line x1="280.6" y1="519.8" x2="280.6" y2="523.5" stroke="#111" stroke-width="0.8"/>
<line x1="278.1" y1="519.8" x2="283.1" y2="519.8" stroke="#111" stroke-width="0.8"/>
<line x1="278.1" y1="523.5" x2="283.1" y2="523.5" stroke="#111" stroke-width="0.8"/>
<line x1="273.2" y1="501.6" x2="280.2" y2="501.6" stroke="#111" stroke-width="1.05"/>
<circle cx="275.2" cy="496.9" r="0.92" fill="#1a1a1a"/>
<circle cx="278.2" cy="496.9" r="0.92" fill="#1a1a1a"/>
<circle cx="293.3" cy="516.5" r="2.15" fill="none" stroke="#c8344f" stroke-width="0.85"/>
<circle cx="292.4" cy="530.4" r="2.15" fill="none" stroke="#c8344f" stroke-width="0.85"/>
<circle cx="294.5" cy="529.5" r="2.15" fill="none" stroke="#c8344f" stroke-width="0.85"/>
<line x1="288" y1="527" x2="297" y2="527" stroke="#111" stroke-width="0.9"/>
<line x1="292.5" y1="524" x2="292.5" y2="531" stroke="#111" stroke-width="0.8"/>
<line x1="290" y1="524" x2="295" y2="524" stroke="#111" stroke-width="0.8"/>
<line x1="290" y1="531" x2="295" y2="531" stroke="#111" stroke-width="0.8"/>
<circle cx="303.8" cy="473.7" r="2.15" fill="none" stroke="#4a6aa8" stroke-width="0.85"/>
<circle cx="306" cy="479.4" r="2.15" fill="none" stroke="#4a6aa8" stroke-width="0.85"/>
<circle cx="301.1" cy="484.1" r="2.15" fill="none" stroke="#4a6aa8" stroke-width="0.85"/>
<circle cx="303.8" cy="503.4" r="2.15" fill="none" stroke="#4a6aa8" stroke-width="0.85"/>
<circle cx="303.8" cy="515.2" r="2.15" fill="none" stroke="#4a6aa8" stroke-width="0.85"/>
<line x1="298.5" y1="491.1" x2="308.5" y2="491.1" stroke="#111" stroke-width="0.9"/>
<line x1="303.5" y1="483.3" x2="303.5" y2="499" stroke="#111" stroke-width="0.8"/>
<line x1="301" y1="483.3" x2="306" y2="483.3" stroke="#111" stroke-width="0.8"/>
<line x1="301" y1="499" x2="306" y2="499" stroke="#111" stroke-width="0.8"/>
<line x1="298.5" y1="469.3" x2="304.6" y2="469.3" stroke="#111" stroke-width="1.05"/>
<circle cx="300.05" cy="464.6" r="0.92" fill="#1a1a1a"/>
<circle cx="303.05" cy="464.6" r="0.92" fill="#1a1a1a"/>
<circle cx="224.6" cy="629.2" r="2.15" fill="none" stroke="#c8344f" stroke-width="0.85"/>
<circle cx="227" cy="630.5" r="2.15" fill="none" stroke="#c8344f" stroke-width="0.85"/>
<circle cx="229" cy="629.8" r="2.15" fill="none" stroke="#c8344f" stroke-width="0.85"/>
<circle cx="225.5" cy="631" r="2.15" fill="none" stroke="#c8344f" stroke-width="0.85"/>
<line x1="221.5" y1="630" x2="230" y2="630" stroke="#111" stroke-width="0.9"/>
<circle cx="233" cy="628.5" r="2.15" fill="none" stroke="#4a6aa8" stroke-width="0.85"/>
<circle cx="236.2" cy="627.7" r="2.15" fill="none" stroke="#4a6aa8" stroke-width="0.85"/>
<circle cx="239.5" cy="626.5" r="2.15" fill="none" stroke="#4a6aa8" stroke-width="0.85"/>
<circle cx="235" cy="629" r="2.15" fill="none" stroke="#4a6aa8" stroke-width="0.85"/>
<line x1="231.5" y1="628.2" x2="239.2" y2="628.2" stroke="#111" stroke-width="0.9"/>
<line x1="235.35" y1="627.3" x2="235.35" y2="629.1" stroke="#111" stroke-width="0.8"/>
<line x1="232.85" y1="627.3" x2="237.85" y2="627.3" stroke="#111" stroke-width="0.8"/>
<line x1="232.85" y1="629.1" x2="237.85" y2="629.1" stroke="#111" stroke-width="0.8"/>
<line x1="229.2" y1="609.2" x2="235.8" y2="609.2" stroke="#111" stroke-width="1.05"/>
<circle cx="232.5" cy="604.5" r="0.92" fill="#1a1a1a"/>
<circle cx="246.9" cy="626.2" r="2.15" fill="none" stroke="#c8344f" stroke-width="0.85"/>
<circle cx="248" cy="630" r="2.15" fill="none" stroke="#c8344f" stroke-width="0.85"/>
<circle cx="250" cy="630.5" r="2.15" fill="none" stroke="#c8344f" stroke-width="0.85"/>
<circle cx="245.5" cy="630.5" r="2.15" fill="none" stroke="#c8344f" stroke-width="0.85"/>
<line x1="242" y1="629.5" x2="251" y2="629.5" stroke="#111" stroke-width="0.9"/>
<circle cx="258.9" cy="608.5" r="2.15" fill="none" stroke="#4a6aa8" stroke-width="0.85"/>
<circle cx="257.7" cy="613.1" r="2.15" fill="none" stroke="#4a6aa8" stroke-width="0.85"/>
<circle cx="260" cy="615.4" r="2.15" fill="none" stroke="#4a6aa8" stroke-width="0.85"/>
<circle cx="258.5" cy="619.2" r="2.15" fill="none" stroke="#4a6aa8" stroke-width="0.85"/>
<line x1="254.3" y1="614.3" x2="262.3" y2="614.3" stroke="#111" stroke-width="0.9"/>
<line x1="258.3" y1="612" x2="258.3" y2="616.6" stroke="#111" stroke-width="0.8"/>
<line x1="255.8" y1="612" x2="260.8" y2="612" stroke="#111" stroke-width="0.8"/>
<line x1="255.8" y1="616.6" x2="260.8" y2="616.6" stroke="#111" stroke-width="0.8"/>
<line x1="251.8" y1="600" x2="258.5" y2="600" stroke="#111" stroke-width="1.05"/>
<circle cx="252.15" cy="595.3" r="0.92" fill="#1a1a1a"/>
<circle cx="255.15" cy="595.3" r="0.92" fill="#1a1a1a"/>
<circle cx="258.15" cy="595.3" r="0.92" fill="#1a1a1a"/>
<circle cx="269.2" cy="627.2" r="2.15" fill="none" stroke="#c8344f" stroke-width="0.85"/>
<circle cx="270.8" cy="630" r="2.15" fill="none" stroke="#c8344f" stroke-width="0.85"/>
<circle cx="272.5" cy="630.5" r="2.15" fill="none" stroke="#c8344f" stroke-width="0.85"/>
<circle cx="268.5" cy="630.5" r="2.15" fill="none" stroke="#c8344f" stroke-width="0.85"/>
<line x1="265" y1="630" x2="274" y2="630" stroke="#111" stroke-width="0.9"/>
<circle cx="278.5" cy="614.3" r="2.15" fill="none" stroke="#4a6aa8" stroke-width="0.85"/>
<circle cx="283.1" cy="615.8" r="2.15" fill="none" stroke="#4a6aa8" stroke-width="0.85"/>
<circle cx="283.1" cy="622.3" r="2.15" fill="none" stroke="#4a6aa8" stroke-width="0.85"/>
<circle cx="278.5" cy="626.2" r="2.15" fill="none" stroke="#4a6aa8" stroke-width="0.85"/>
<circle cx="281.5" cy="619" r="2.15" fill="none" stroke="#4a6aa8" stroke-width="0.85"/>
<line x1="276.2" y1="619.5" x2="284.6" y2="619.5" stroke="#111" stroke-width="0.9"/>
<line x1="280.4" y1="617.3" x2="280.4" y2="621.8" stroke="#111" stroke-width="0.8"/>
<line x1="277.9" y1="617.3" x2="282.9" y2="617.3" stroke="#111" stroke-width="0.8"/>
<line x1="277.9" y1="621.8" x2="282.9" y2="621.8" stroke="#111" stroke-width="0.8"/>
<line x1="273" y1="603.5" x2="280" y2="603.5" stroke="#111" stroke-width="1.05"/>
<circle cx="275" cy="598.8" r="0.92" fill="#1a1a1a"/>
<circle cx="278" cy="598.8" r="0.92" fill="#1a1a1a"/>
<circle cx="293.5" cy="607.7" r="2.15" fill="none" stroke="#c8344f" stroke-width="0.85"/>
<circle cx="291.8" cy="628.5" r="2.15" fill="none" stroke="#c8344f" stroke-width="0.85"/>
<circle cx="294.6" cy="630" r="2.15" fill="none" stroke="#c8344f" stroke-width="0.85"/>
<line x1="289" y1="624.6" x2="297.5" y2="624.6" stroke="#111" stroke-width="0.9"/>
<line x1="293.25" y1="618.5" x2="293.25" y2="630.8" stroke="#111" stroke-width="0.8"/>
<line x1="290.75" y1="618.5" x2="295.75" y2="618.5" stroke="#111" stroke-width="0.8"/>
<line x1="290.75" y1="630.8" x2="295.75" y2="630.8" stroke="#111" stroke-width="0.8"/>
<circle cx="303.5" cy="575.4" r="2.15" fill="none" stroke="#4a6aa8" stroke-width="0.85"/>
<circle cx="303.5" cy="588.5" r="2.15" fill="none" stroke="#4a6aa8" stroke-width="0.85"/>
<circle cx="303.5" cy="597.4" r="2.15" fill="none" stroke="#4a6aa8" stroke-width="0.85"/>
<circle cx="303.5" cy="608.2" r="2.15" fill="none" stroke="#4a6aa8" stroke-width="0.85"/>
<circle cx="303.5" cy="590" r="2.15" fill="none" stroke="#4a6aa8" stroke-width="0.85"/>
<line x1="299.5" y1="592.3" x2="307.7" y2="592.3" stroke="#111" stroke-width="0.9"/>
<line x1="303.6" y1="585.7" x2="303.6" y2="598.9" stroke="#111" stroke-width="0.8"/>
<line x1="301.1" y1="585.7" x2="306.1" y2="585.7" stroke="#111" stroke-width="0.8"/>
<line x1="301.1" y1="598.9" x2="306.1" y2="598.9" stroke="#111" stroke-width="0.8"/>
<line x1="296.9" y1="568.2" x2="303.8" y2="568.2" stroke="#111" stroke-width="1.05"/>
<circle cx="300.35" cy="563.5" r="0.92" fill="#1a1a1a"/>
<circle cx="206" cy="665.2" r="2" fill="none" stroke="#c8344f" stroke-width="0.85"/>
<text transform="translate(210.8 668) scale(0.94 1)" font-size="7.7" fill="#231f20">WT CAR-T</text>
<circle cx="206" cy="676.6" r="2" fill="none" stroke="#4a6aa8" stroke-width="0.85"/>
<text transform="translate(210.8 679.4) scale(0.94 1)" font-size="7.7" fill="#231f20">KO CAR-T</text>
<text x="319.6" y="443.1" font-size="13.3" font-weight="bold" fill="#000">J</text>
<text x="415.5" y="452.8" font-size="9.3" text-anchor="middle" fill="#231f20">Day 35</text>
<text x="384.5" y="464.6" font-size="7.4" text-anchor="middle" fill="#231f20">Spleen</text>
<text x="447.9" y="464.6" font-size="7.4" text-anchor="middle" fill="#231f20">Bone marrow</text>
<line x1="366.5" y1="544.2" x2="366.5" y2="469.6" stroke="#1a1a1a" stroke-width="1.15"/>
<line x1="363.4" y1="544.2" x2="366.5" y2="544.2" stroke="#1a1a1a" stroke-width="1"/>
<text transform="translate(360.5 546.93) scale(0.87 1)" font-size="7.8" text-anchor="end" fill="#231f20">0</text>
<line x1="363.4" y1="529.78" x2="366.5" y2="529.78" stroke="#1a1a1a" stroke-width="1"/>
<text transform="translate(360.5 532.51) scale(0.87 1)" font-size="7.8" text-anchor="end" fill="#231f20">20</text>
<line x1="363.4" y1="515.36" x2="366.5" y2="515.36" stroke="#1a1a1a" stroke-width="1"/>
<text transform="translate(360.5 518.09) scale(0.87 1)" font-size="7.8" text-anchor="end" fill="#231f20">40</text>
<line x1="363.4" y1="500.94" x2="366.5" y2="500.94" stroke="#1a1a1a" stroke-width="1"/>
<text transform="translate(360.5 503.67) scale(0.87 1)" font-size="7.8" text-anchor="end" fill="#231f20">60</text>
<line x1="363.4" y1="486.52" x2="366.5" y2="486.52" stroke="#1a1a1a" stroke-width="1"/>
<text transform="translate(360.5 489.25) scale(0.87 1)" font-size="7.8" text-anchor="end" fill="#231f20">80</text>
<line x1="363.4" y1="472.1" x2="366.5" y2="472.1" stroke="#1a1a1a" stroke-width="1"/>
<text transform="translate(360.5 474.83) scale(0.87 1)" font-size="7.8" text-anchor="end" fill="#231f20">100</text>
<line x1="365.93" y1="544.2" x2="402.1" y2="544.2" stroke="#1a1a1a" stroke-width="1.15"/>
<line x1="375.6" y1="544.2" x2="375.6" y2="547.3" stroke="#1a1a1a" stroke-width="1"/>
<line x1="393.5" y1="544.2" x2="393.5" y2="547.3" stroke="#1a1a1a" stroke-width="1"/>
<line x1="429.8" y1="544.2" x2="429.8" y2="469.6" stroke="#1a1a1a" stroke-width="1.15"/>
<line x1="426.7" y1="544.2" x2="429.8" y2="544.2" stroke="#1a1a1a" stroke-width="1"/>
<text transform="translate(423.8 546.93) scale(0.87 1)" font-size="7.8" text-anchor="end" fill="#231f20">0</text>
<line x1="426.7" y1="529.78" x2="429.8" y2="529.78" stroke="#1a1a1a" stroke-width="1"/>
<text transform="translate(423.8 532.51) scale(0.87 1)" font-size="7.8" text-anchor="end" fill="#231f20">20</text>
<line x1="426.7" y1="515.36" x2="429.8" y2="515.36" stroke="#1a1a1a" stroke-width="1"/>
<text transform="translate(423.8 518.09) scale(0.87 1)" font-size="7.8" text-anchor="end" fill="#231f20">40</text>
<line x1="426.7" y1="500.94" x2="429.8" y2="500.94" stroke="#1a1a1a" stroke-width="1"/>
<text transform="translate(423.8 503.67) scale(0.87 1)" font-size="7.8" text-anchor="end" fill="#231f20">60</text>
<line x1="426.7" y1="486.52" x2="429.8" y2="486.52" stroke="#1a1a1a" stroke-width="1"/>
<text transform="translate(423.8 489.25) scale(0.87 1)" font-size="7.8" text-anchor="end" fill="#231f20">80</text>
<line x1="426.7" y1="472.1" x2="429.8" y2="472.1" stroke="#1a1a1a" stroke-width="1"/>
<text transform="translate(423.8 474.83) scale(0.87 1)" font-size="7.8" text-anchor="end" fill="#231f20">100</text>
<line x1="429.23" y1="544.2" x2="465.8" y2="544.2" stroke="#1a1a1a" stroke-width="1.15"/>
<line x1="438.8" y1="544.2" x2="438.8" y2="547.3" stroke="#1a1a1a" stroke-width="1"/>
<line x1="456.7" y1="544.2" x2="456.7" y2="547.3" stroke="#1a1a1a" stroke-width="1"/>
<line x1="366.5" y1="639.3" x2="366.5" y2="565.5" stroke="#1a1a1a" stroke-width="1.15"/>
<line x1="363.4" y1="639.3" x2="366.5" y2="639.3" stroke="#1a1a1a" stroke-width="1"/>
<text transform="translate(360.5 642.03) scale(0.87 1)" font-size="7.8" text-anchor="end" fill="#231f20">0</text>
<line x1="363.4" y1="624.96" x2="366.5" y2="624.96" stroke="#1a1a1a" stroke-width="1"/>
<text transform="translate(360.5 627.69) scale(0.87 1)" font-size="7.8" text-anchor="end" fill="#231f20">20</text>
<line x1="363.4" y1="610.62" x2="366.5" y2="610.62" stroke="#1a1a1a" stroke-width="1"/>
<text transform="translate(360.5 613.35) scale(0.87 1)" font-size="7.8" text-anchor="end" fill="#231f20">40</text>
<line x1="363.4" y1="596.28" x2="366.5" y2="596.28" stroke="#1a1a1a" stroke-width="1"/>
<text transform="translate(360.5 599.01) scale(0.87 1)" font-size="7.8" text-anchor="end" fill="#231f20">60</text>
<line x1="363.4" y1="581.94" x2="366.5" y2="581.94" stroke="#1a1a1a" stroke-width="1"/>
<text transform="translate(360.5 584.67) scale(0.87 1)" font-size="7.8" text-anchor="end" fill="#231f20">80</text>
<line x1="363.4" y1="567.6" x2="366.5" y2="567.6" stroke="#1a1a1a" stroke-width="1"/>
<text transform="translate(360.5 570.33) scale(0.87 1)" font-size="7.8" text-anchor="end" fill="#231f20">100</text>
<line x1="365.93" y1="639.3" x2="402.3" y2="639.3" stroke="#1a1a1a" stroke-width="1.15"/>
<line x1="375.4" y1="639.3" x2="375.4" y2="642.4" stroke="#1a1a1a" stroke-width="1"/>
<line x1="393.5" y1="639.3" x2="393.5" y2="642.4" stroke="#1a1a1a" stroke-width="1"/>
<line x1="430.1" y1="639.3" x2="430.1" y2="565.5" stroke="#1a1a1a" stroke-width="1.15"/>
<line x1="427" y1="639.3" x2="430.1" y2="639.3" stroke="#1a1a1a" stroke-width="1"/>
<text transform="translate(424.1 642.03) scale(0.87 1)" font-size="7.8" text-anchor="end" fill="#231f20">0</text>
<line x1="427" y1="624.96" x2="430.1" y2="624.96" stroke="#1a1a1a" stroke-width="1"/>
<text transform="translate(424.1 627.69) scale(0.87 1)" font-size="7.8" text-anchor="end" fill="#231f20">20</text>
<line x1="427" y1="610.62" x2="430.1" y2="610.62" stroke="#1a1a1a" stroke-width="1"/>
<text transform="translate(424.1 613.35) scale(0.87 1)" font-size="7.8" text-anchor="end" fill="#231f20">40</text>
<line x1="427" y1="596.28" x2="430.1" y2="596.28" stroke="#1a1a1a" stroke-width="1"/>
<text transform="translate(424.1 599.01) scale(0.87 1)" font-size="7.8" text-anchor="end" fill="#231f20">60</text>
<line x1="427" y1="581.94" x2="430.1" y2="581.94" stroke="#1a1a1a" stroke-width="1"/>
<text transform="translate(424.1 584.67) scale(0.87 1)" font-size="7.8" text-anchor="end" fill="#231f20">80</text>
<line x1="427" y1="567.6" x2="430.1" y2="567.6" stroke="#1a1a1a" stroke-width="1"/>
<text transform="translate(424.1 570.33) scale(0.87 1)" font-size="7.8" text-anchor="end" fill="#231f20">100</text>
<line x1="429.53" y1="639.3" x2="465.8" y2="639.3" stroke="#1a1a1a" stroke-width="1.15"/>
<line x1="438.8" y1="639.3" x2="438.8" y2="642.4" stroke="#1a1a1a" stroke-width="1"/>
<line x1="457" y1="639.3" x2="457" y2="642.4" stroke="#1a1a1a" stroke-width="1"/>
<circle cx="375.6" cy="524.2" r="2.15" fill="none" stroke="#c8344f" stroke-width="0.85"/>
<circle cx="372.3" cy="540.2" r="2.15" fill="none" stroke="#c8344f" stroke-width="0.85"/>
<circle cx="378" cy="540.2" r="2.15" fill="none" stroke="#c8344f" stroke-width="0.85"/>
<circle cx="375.6" cy="532" r="2.15" fill="none" stroke="#c8344f" stroke-width="0.85"/>
<line x1="369.4" y1="534.4" x2="381.5" y2="534.4" stroke="#111" stroke-width="0.9"/>
<line x1="375.45" y1="530.6" x2="375.45" y2="538.3" stroke="#111" stroke-width="0.8"/>
<line x1="372.95" y1="530.6" x2="377.95" y2="530.6" stroke="#111" stroke-width="0.8"/>
<line x1="372.95" y1="538.3" x2="377.95" y2="538.3" stroke="#111" stroke-width="0.8"/>
<circle cx="393.5" cy="517.7" r="2.15" fill="none" stroke="#4a6aa8" stroke-width="0.85"/>
<circle cx="391.2" cy="521.9" r="2.15" fill="none" stroke="#4a6aa8" stroke-width="0.85"/>
<circle cx="396.3" cy="521" r="2.15" fill="none" stroke="#4a6aa8" stroke-width="0.85"/>
<circle cx="391.9" cy="524.8" r="2.15" fill="none" stroke="#4a6aa8" stroke-width="0.85"/>
<circle cx="395.4" cy="524.8" r="2.15" fill="none" stroke="#4a6aa8" stroke-width="0.85"/>
<line x1="388" y1="522.3" x2="399.2" y2="522.3" stroke="#111" stroke-width="0.9"/>
<line x1="393.6" y1="521" x2="393.6" y2="523.6" stroke="#111" stroke-width="0.8"/>
<line x1="391.1" y1="521" x2="396.1" y2="521" stroke="#111" stroke-width="0.8"/>
<line x1="391.1" y1="523.6" x2="396.1" y2="523.6" stroke="#111" stroke-width="0.8"/>
<line x1="376.2" y1="508.8" x2="392.5" y2="508.8" stroke="#111" stroke-width="1.05"/>
<circle cx="384.35" cy="505.8" r="0.92" fill="#1a1a1a"/>
<circle cx="436" cy="532.9" r="2.15" fill="none" stroke="#c8344f" stroke-width="0.85"/>
<circle cx="442.3" cy="536.2" r="2.15" fill="none" stroke="#c8344f" stroke-width="0.85"/>
<circle cx="436" cy="542.5" r="2.15" fill="none" stroke="#c8344f" stroke-width="0.85"/>
<circle cx="441.7" cy="542.5" r="2.15" fill="none" stroke="#c8344f" stroke-width="0.85"/>
<line x1="433" y1="538.7" x2="444.6" y2="538.7" stroke="#111" stroke-width="0.9"/>
<line x1="438.8" y1="535.5" x2="438.8" y2="541.5" stroke="#111" stroke-width="0.8"/>
<line x1="436.3" y1="535.5" x2="441.3" y2="535.5" stroke="#111" stroke-width="0.8"/>
<line x1="436.3" y1="541.5" x2="441.3" y2="541.5" stroke="#111" stroke-width="0.8"/>
<circle cx="457.1" cy="529.6" r="2.15" fill="none" stroke="#4a6aa8" stroke-width="0.85"/>
<circle cx="453.8" cy="535.4" r="2.15" fill="none" stroke="#4a6aa8" stroke-width="0.85"/>
<circle cx="460.4" cy="535.4" r="2.15" fill="none" stroke="#4a6aa8" stroke-width="0.85"/>
<circle cx="455.2" cy="540" r="2.15" fill="none" stroke="#4a6aa8" stroke-width="0.85"/>
<circle cx="459" cy="539.6" r="2.15" fill="none" stroke="#4a6aa8" stroke-width="0.85"/>
<line x1="451.3" y1="535.4" x2="462.9" y2="535.4" stroke="#111" stroke-width="0.9"/>
<line x1="457.1" y1="534" x2="457.1" y2="536.8" stroke="#111" stroke-width="0.8"/>
<line x1="454.6" y1="534" x2="459.6" y2="534" stroke="#111" stroke-width="0.8"/>
<line x1="454.6" y1="536.8" x2="459.6" y2="536.8" stroke="#111" stroke-width="0.8"/>
<circle cx="372.3" cy="608.1" r="2.15" fill="none" stroke="#c8344f" stroke-width="0.85"/>
<circle cx="378.5" cy="605.5" r="2.15" fill="none" stroke="#c8344f" stroke-width="0.85"/>
<circle cx="375.4" cy="619.3" r="2.15" fill="none" stroke="#c8344f" stroke-width="0.85"/>
<circle cx="375.4" cy="628.5" r="2.15" fill="none" stroke="#c8344f" stroke-width="0.85"/>
<line x1="369.2" y1="615.3" x2="381.2" y2="615.3" stroke="#111" stroke-width="0.9"/>
<line x1="375.2" y1="609.6" x2="375.2" y2="620.4" stroke="#111" stroke-width="0.8"/>
<line x1="372.7" y1="609.6" x2="377.7" y2="609.6" stroke="#111" stroke-width="0.8"/>
<line x1="372.7" y1="620.4" x2="377.7" y2="620.4" stroke="#111" stroke-width="0.8"/>
<circle cx="393.5" cy="586.8" r="2.15" fill="none" stroke="#4a6aa8" stroke-width="0.85"/>
<circle cx="390" cy="601.9" r="2.15" fill="none" stroke="#4a6aa8" stroke-width="0.85"/>
<circle cx="396.9" cy="602.7" r="2.15" fill="none" stroke="#4a6aa8" stroke-width="0.85"/>
<circle cx="393.1" cy="606.5" r="2.15" fill="none" stroke="#4a6aa8" stroke-width="0.85"/>
<circle cx="394.5" cy="600" r="2.15" fill="none" stroke="#4a6aa8" stroke-width="0.85"/>
<line x1="387.4" y1="599.6" x2="399.2" y2="599.6" stroke="#111" stroke-width="0.9"/>
<line x1="393.3" y1="596.2" x2="393.3" y2="603" stroke="#111" stroke-width="0.8"/>
<line x1="390.8" y1="596.2" x2="395.8" y2="596.2" stroke="#111" stroke-width="0.8"/>
<line x1="390.8" y1="603" x2="395.8" y2="603" stroke="#111" stroke-width="0.8"/>
<line x1="376.2" y1="581.2" x2="392.3" y2="581.2" stroke="#111" stroke-width="1.05"/>
<circle cx="384.25" cy="578.2" r="0.92" fill="#1a1a1a"/>
<circle cx="439.2" cy="620.4" r="2.15" fill="none" stroke="#c8344f" stroke-width="0.85"/>
<circle cx="441.9" cy="631.2" r="2.15" fill="none" stroke="#c8344f" stroke-width="0.85"/>
<circle cx="436.1" cy="635.3" r="2.15" fill="none" stroke="#c8344f" stroke-width="0.85"/>
<circle cx="439.5" cy="628" r="2.15" fill="none" stroke="#c8344f" stroke-width="0.85"/>
<line x1="433" y1="629.2" x2="444.7" y2="629.2" stroke="#111" stroke-width="0.9"/>
<line x1="438.85" y1="625.8" x2="438.85" y2="632.5" stroke="#111" stroke-width="0.8"/>
<line x1="436.35" y1="625.8" x2="441.35" y2="625.8" stroke="#111" stroke-width="0.8"/>
<line x1="436.35" y1="632.5" x2="441.35" y2="632.5" stroke="#111" stroke-width="0.8"/>
<circle cx="453.9" cy="606.2" r="2.15" fill="none" stroke="#4a6aa8" stroke-width="0.85"/>
<circle cx="460.1" cy="611.6" r="2.15" fill="none" stroke="#4a6aa8" stroke-width="0.85"/>
<circle cx="457.3" cy="619.3" r="2.15" fill="none" stroke="#4a6aa8" stroke-width="0.85"/>
<circle cx="453.5" cy="614.2" r="2.15" fill="none" stroke="#4a6aa8" stroke-width="0.85"/>
<circle cx="457" cy="612" r="2.15" fill="none" stroke="#4a6aa8" stroke-width="0.85"/>
<line x1="451.2" y1="613.2" x2="462.7" y2="613.2" stroke="#111" stroke-width="0.9"/>
<line x1="456.95" y1="611.3" x2="456.95" y2="615.1" stroke="#111" stroke-width="0.8"/>
<line x1="454.45" y1="611.3" x2="459.45" y2="611.3" stroke="#111" stroke-width="0.8"/>
<line x1="454.45" y1="615.1" x2="459.45" y2="615.1" stroke="#111" stroke-width="0.8"/>
<line x1="440" y1="600.4" x2="456" y2="600.4" stroke="#111" stroke-width="1.05"/>
<circle cx="448" cy="597.4" r="0.92" fill="#1a1a1a"/>
<circle cx="359.2" cy="665.3" r="2" fill="none" stroke="#c8344f" stroke-width="0.85"/>
<text transform="translate(364.7 668.1) scale(0.94 1)" font-size="7.7" fill="#231f20">WT CAR-T</text>
<circle cx="359.2" cy="676.3" r="2" fill="none" stroke="#4a6aa8" stroke-width="0.85"/>
<text transform="translate(364.7 679.1) scale(0.94 1)" font-size="7.7" fill="#231f20">KO CAR-T</text>
</svg>
</body></html>
